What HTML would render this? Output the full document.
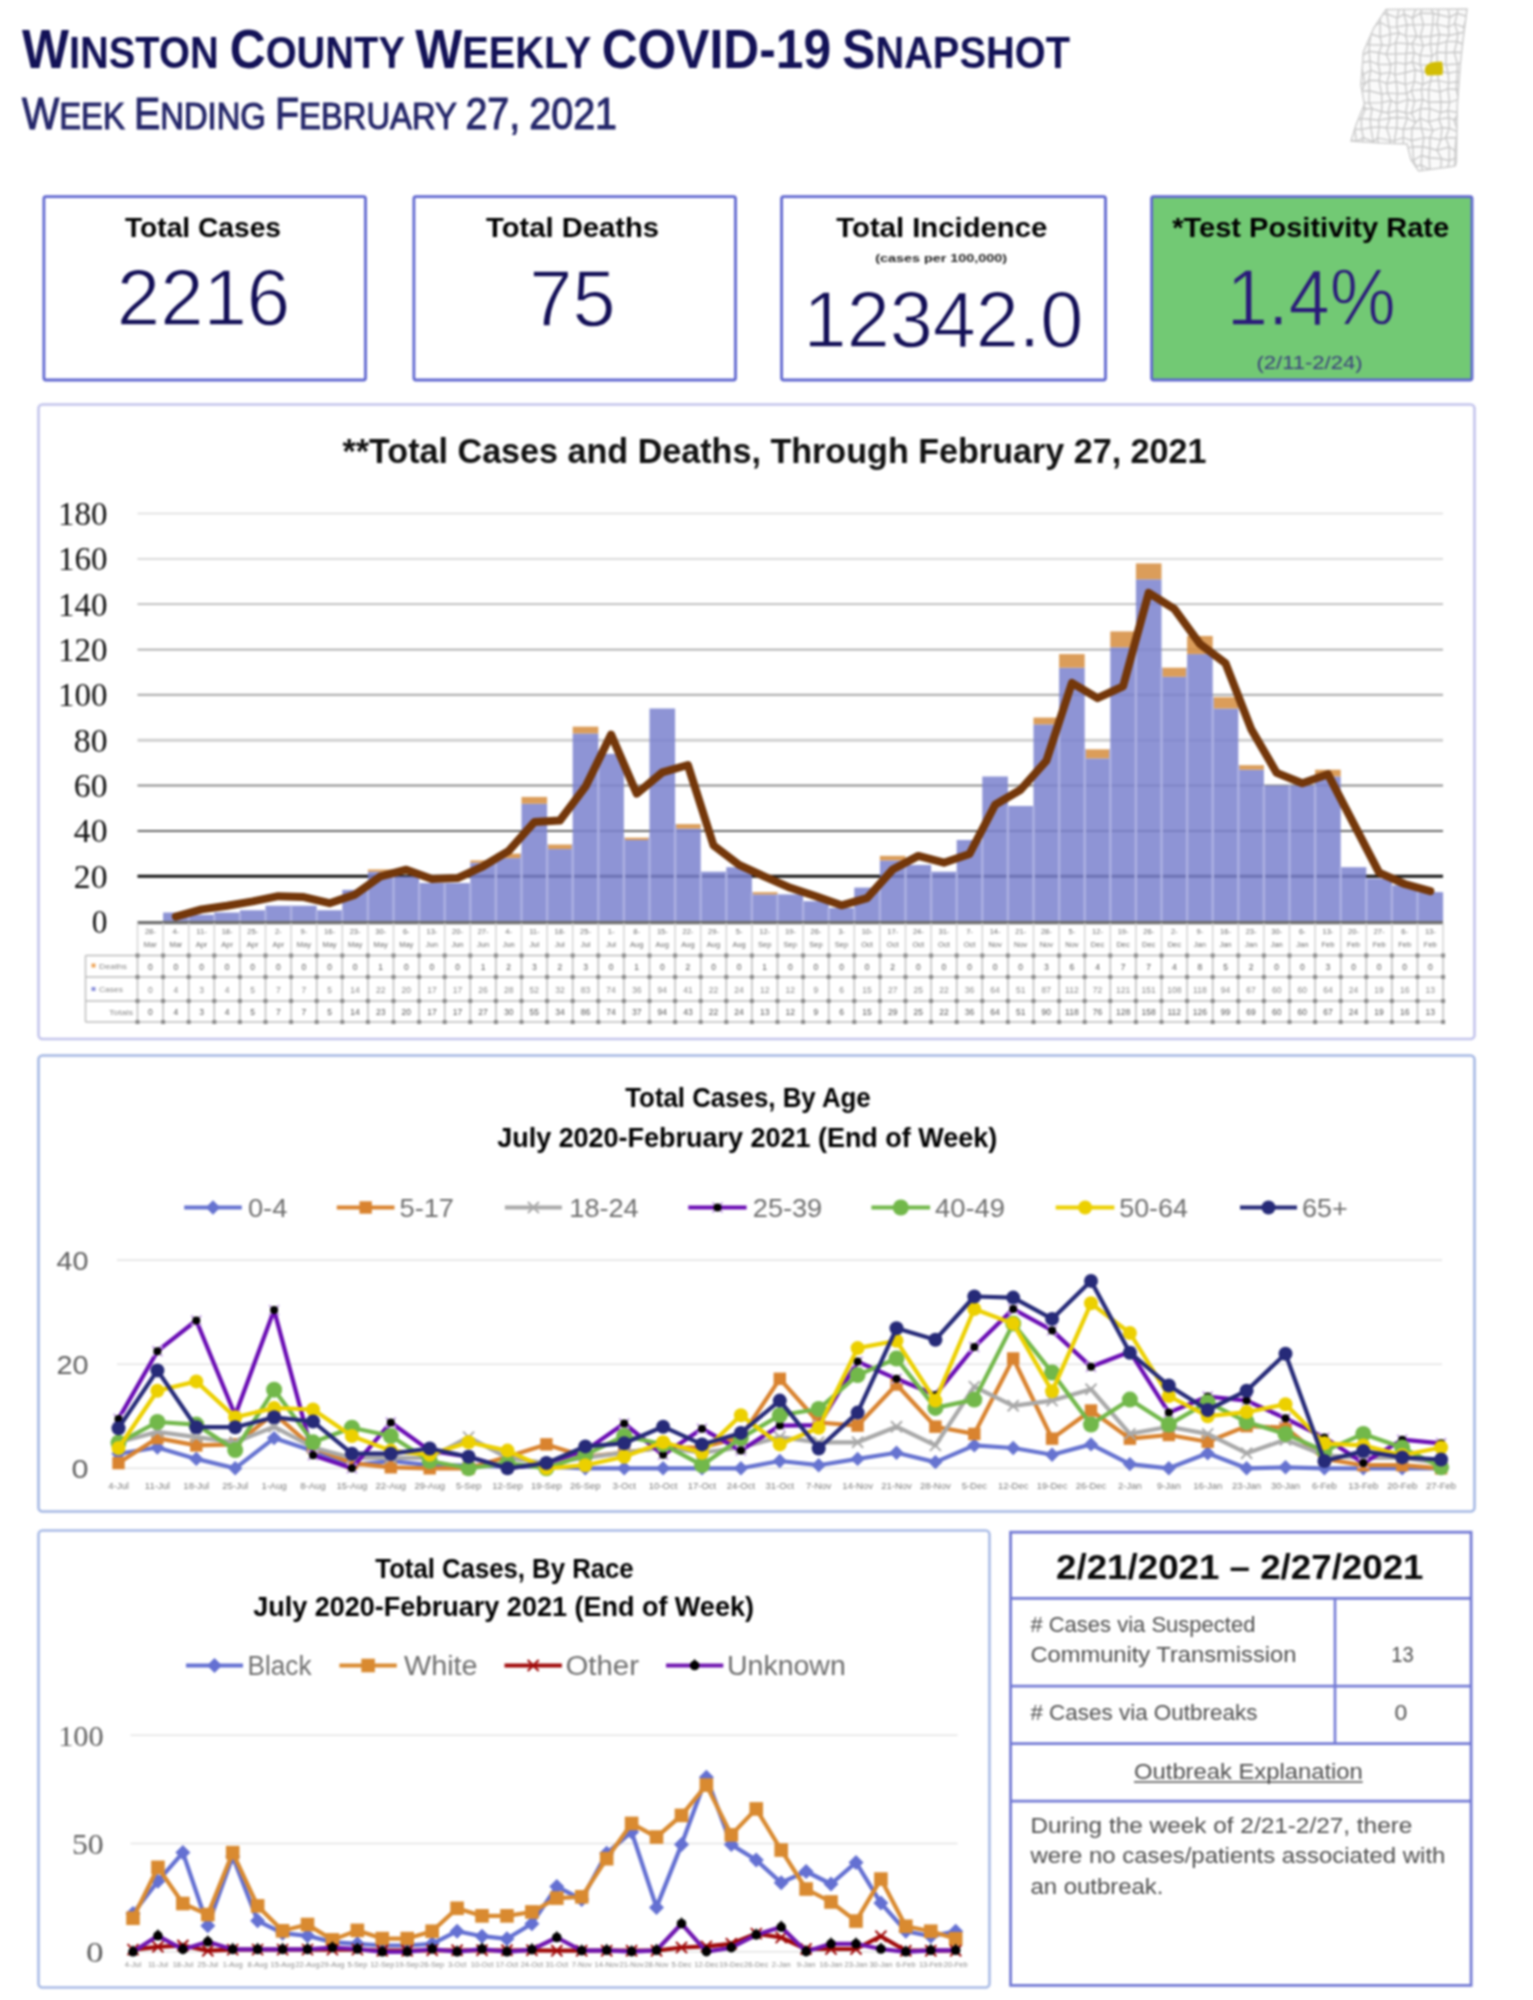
<!DOCTYPE html>
<html><head><meta charset="utf-8"><title>Winston County Weekly COVID-19 Snapshot</title>
<style>
html,body{margin:0;padding:0;background:#fff;}
body{width:1533px;height:2000px;overflow:hidden;font-family:"Liberation Sans",sans-serif;}
svg{display:block;filter:blur(0.8px);}
</style></head><body>
<svg width="1533" height="2000" viewBox="0 0 1533 2000" font-family='"Liberation Sans", sans-serif'><defs><clipPath id="msclip"><path d="M1386,9.5 L1467,9 L1463,40 L1460.5,62.6 L1457.3,104.4 L1456.3,162.8 L1455,166 L1418.7,171 L1411,160 L1407,144 L1380,143 L1351,141 L1356,125 L1364.4,104.4 L1361,85 L1363.4,52 L1373.8,28 Z"/></clipPath><filter id="mblur" x="-5%" y="-5%" width="110%" height="110%"><feGaussianBlur stdDeviation="0.7"/></filter></defs><text x="22" y="68" font-weight="bold" fill="#131257" textLength="1048" lengthAdjust="spacingAndGlyphs"><tspan font-size="55">W</tspan><tspan font-size="44">I</tspan><tspan font-size="44">N</tspan><tspan font-size="44">S</tspan><tspan font-size="44">T</tspan><tspan font-size="44">O</tspan><tspan font-size="44">N</tspan><tspan font-size="44"> </tspan><tspan font-size="55">C</tspan><tspan font-size="44">O</tspan><tspan font-size="44">U</tspan><tspan font-size="44">N</tspan><tspan font-size="44">T</tspan><tspan font-size="44">Y</tspan><tspan font-size="44"> </tspan><tspan font-size="55">W</tspan><tspan font-size="44">E</tspan><tspan font-size="44">E</tspan><tspan font-size="44">K</tspan><tspan font-size="44">L</tspan><tspan font-size="44">Y</tspan><tspan font-size="44"> </tspan><tspan font-size="55">C</tspan><tspan font-size="55">O</tspan><tspan font-size="55">V</tspan><tspan font-size="55">I</tspan><tspan font-size="55">D</tspan><tspan font-size="55">-</tspan><tspan font-size="55">1</tspan><tspan font-size="55">9</tspan><tspan font-size="44"> </tspan><tspan font-size="55">S</tspan><tspan font-size="44">N</tspan><tspan font-size="44">A</tspan><tspan font-size="44">P</tspan><tspan font-size="44">S</tspan><tspan font-size="44">H</tspan><tspan font-size="44">O</tspan><tspan font-size="44">T</tspan></text>
<text x="22" y="128.6" fill="#25276a" textLength="595" lengthAdjust="spacingAndGlyphs" stroke="#25276a" stroke-width="1.1"><tspan font-size="44.5">W</tspan><tspan font-size="37">E</tspan><tspan font-size="37">E</tspan><tspan font-size="37">K</tspan><tspan font-size="37"> </tspan><tspan font-size="44.5">E</tspan><tspan font-size="37">N</tspan><tspan font-size="37">D</tspan><tspan font-size="37">I</tspan><tspan font-size="37">N</tspan><tspan font-size="37">G</tspan><tspan font-size="37"> </tspan><tspan font-size="44.5">F</tspan><tspan font-size="37">E</tspan><tspan font-size="37">B</tspan><tspan font-size="37">R</tspan><tspan font-size="37">U</tspan><tspan font-size="37">A</tspan><tspan font-size="37">R</tspan><tspan font-size="37">Y</tspan><tspan font-size="37"> </tspan><tspan font-size="44.5">2</tspan><tspan font-size="44.5">7</tspan><tspan font-size="44.5">,</tspan><tspan font-size="37"> </tspan><tspan font-size="44.5">2</tspan><tspan font-size="44.5">0</tspan><tspan font-size="44.5">2</tspan><tspan font-size="44.5">1</tspan></text>
<path d="M1386,9.5 L1467,9 L1463,40 L1460.5,62.6 L1457.3,104.4 L1456.3,162.8 L1455,166 L1418.7,171 L1411,160 L1407,144 L1380,143 L1351,141 L1356,125 L1364.4,104.4 L1361,85 L1363.4,52 L1373.8,28 Z" fill="#fafafa" stroke="#cfcfcf" stroke-width="1.5"/>
<g><g clip-path="url(#msclip)" fill="none" stroke="#c8c8c8" stroke-width="1.4">
<polyline points="1345.1,4.2 1346.8,13.3 1346.2,24.3 1343.7,34.5 1343.6,43.7 1343.8,51.4 1345.6,64.7 1344.0,71.1 1346.7,84.3 1346.4,91.0 1348.5,98.6 1347.9,109.4 1344.2,118.0 1345.0,131.1 1344.3,139.4 1346.7,147.8 1346.2,155.7 1343.7,166.0 1346.9,176.6"/>
<polyline points="1353.5,6.4 1354.3,14.5 1356.0,26.0 1353.2,34.9 1354.6,46.0 1355.7,52.4 1357.0,61.0 1354.1,73.8 1352.7,81.9 1352.1,92.4 1355.9,101.4 1356.5,109.5 1355.5,120.5 1354.9,129.3 1356.3,141.3 1354.4,149.4 1352.2,159.0 1355.3,170.1 1356.2,175.9"/>
<polyline points="1362.4,6.9 1360.5,15.3 1361.3,23.0 1360.7,35.9 1361.1,42.7 1362.4,55.4 1360.8,62.7 1363.3,74.5 1364.7,83.9 1361.8,91.1 1362.3,103.0 1365.4,108.7 1361.3,118.6 1361.6,129.4 1363.5,137.8 1360.4,148.1 1362.3,158.3 1365.4,168.5 1363.1,177.6"/>
<polyline points="1372.4,3.7 1373.6,17.0 1373.4,26.5 1370.9,34.0 1369.4,44.7 1369.2,51.3 1370.0,61.2 1370.7,70.2 1368.9,80.2 1369.4,90.8 1369.0,102.9 1372.1,108.7 1370.2,119.2 1370.8,127.5 1373.3,141.6 1371.3,148.4 1369.3,155.9 1370.7,166.3 1373.2,175.2"/>
<polyline points="1377.5,8.3 1380.1,13.7 1380.2,22.5 1380.1,37.0 1381.9,45.0 1378.8,52.8 1378.3,64.4 1380.2,74.0 1379.1,80.6 1381.6,94.0 1381.8,102.6 1381.7,111.7 1378.6,120.1 1379.2,127.1 1377.5,137.9 1378.7,149.5 1382.4,157.7 1382.3,170.0 1382.4,176.3"/>
<polyline points="1387.0,4.6 1386.9,14.0 1389.1,27.1 1390.3,34.4 1389.3,45.6 1386.3,54.3 1390.6,64.5 1389.8,72.4 1386.8,83.5 1387.6,93.1 1391.0,100.5 1388.0,112.8 1389.7,118.3 1386.6,127.7 1390.6,140.6 1386.7,150.2 1391.0,158.8 1387.7,167.8 1386.6,174.5"/>
<polyline points="1399.4,6.8 1397.1,17.8 1396.7,26.9 1398.7,33.0 1395.7,42.9 1395.7,53.9 1395.7,62.6 1395.1,74.6 1396.2,81.8 1397.4,93.6 1396.6,103.2 1397.0,110.7 1397.1,117.5 1396.7,127.9 1394.4,140.6 1395.3,148.4 1398.2,158.3 1396.1,167.6 1397.3,178.5"/>
<polyline points="1403.5,6.3 1404.2,14.3 1406.9,25.0 1405.8,35.9 1407.6,43.7 1406.1,53.5 1405.6,64.0 1405.3,72.7 1405.4,84.3 1406.5,93.5 1407.8,99.7 1405.8,112.8 1407.3,118.1 1403.5,129.2 1403.3,137.7 1403.3,149.4 1407.0,160.1 1403.7,168.6 1406.3,175.1"/>
<polyline points="1416.0,8.4 1412.5,17.9 1413.5,24.9 1416.5,36.2 1412.2,43.6 1414.1,52.7 1412.4,62.1 1415.2,70.0 1414.3,81.7 1411.5,90.6 1414.6,101.1 1411.7,113.0 1415.5,122.5 1411.9,128.3 1411.6,140.5 1412.8,146.6 1413.6,160.1 1415.7,166.2 1412.2,179.2"/>
<polyline points="1422.9,7.0 1420.4,13.2 1423.5,24.6 1420.3,36.8 1423.2,45.6 1420.3,55.4 1420.2,64.9 1422.3,71.7 1422.8,84.2 1421.3,89.6 1422.6,99.6 1420.5,108.7 1420.2,118.4 1421.5,128.5 1423.8,137.9 1422.5,146.8 1421.7,155.5 1421.2,165.0 1423.7,177.3"/>
<polyline points="1429.4,5.9 1433.3,13.5 1432.7,24.6 1431.0,36.2 1430.4,44.0 1432.0,56.0 1430.2,64.7 1432.1,73.2 1430.5,81.2 1428.7,89.6 1428.8,102.3 1429.7,108.7 1428.8,121.8 1432.9,130.4 1429.9,137.7 1429.9,148.3 1429.2,157.7 1429.8,169.9 1433.5,177.2"/>
<polyline points="1438.2,8.4 1438.5,14.8 1436.9,24.4 1439.4,34.5 1437.9,44.0 1436.9,52.3 1437.4,62.5 1437.1,70.0 1438.5,80.6 1439.9,91.7 1440.8,101.8 1440.6,112.5 1438.9,119.1 1442.0,127.7 1440.7,139.7 1437.1,150.2 1441.5,158.7 1440.7,169.1 1437.6,177.1"/>
<polyline points="1448.0,7.7 1449.6,17.2 1448.4,27.0 1449.0,35.5 1446.6,41.6 1446.1,52.8 1445.9,64.7 1448.3,73.2 1448.7,82.9 1447.9,88.9 1449.5,102.3 1448.0,110.7 1448.8,117.7 1449.2,128.2 1445.8,137.8 1449.2,147.0 1449.2,160.5 1448.0,166.9 1447.9,178.0"/>
<polyline points="1457.9,6.6 1457.2,13.3 1454.7,23.7 1457.8,33.5 1456.9,41.5 1454.2,52.3 1457.4,64.0 1457.4,71.4 1456.6,81.8 1456.3,89.5 1458.5,99.4 1459.0,112.8 1454.0,119.8 1458.2,131.9 1456.2,137.8 1455.0,150.8 1455.0,158.4 1454.6,167.6 1458.9,175.1"/>
<polyline points="1466.7,6.0 1467.0,16.6 1463.6,27.1 1464.9,32.0 1462.4,44.0 1464.7,52.5 1463.1,62.2 1464.0,74.3 1462.4,83.3 1466.8,89.5 1467.2,102.1 1467.1,109.4 1464.3,119.4 1467.6,130.0 1464.3,138.6 1463.8,146.2 1462.9,159.7 1463.9,169.8 1463.7,175.8"/>
<polyline points="1345.1,4.2 1353.5,6.4 1362.4,6.9 1372.4,3.7 1377.5,8.3 1387.0,4.6 1399.4,6.8 1403.5,6.3 1416.0,8.4 1422.9,7.0 1429.4,5.9 1438.2,8.4 1448.0,7.7 1457.9,6.6 1466.7,6.0"/>
<polyline points="1346.8,13.3 1354.3,14.5 1360.5,15.3 1373.6,17.0 1380.1,13.7 1386.9,14.0 1397.1,17.8 1404.2,14.3 1412.5,17.9 1420.4,13.2 1433.3,13.5 1438.5,14.8 1449.6,17.2 1457.2,13.3 1467.0,16.6"/>
<polyline points="1346.2,24.3 1356.0,26.0 1361.3,23.0 1373.4,26.5 1380.2,22.5 1389.1,27.1 1396.7,26.9 1406.9,25.0 1413.5,24.9 1423.5,24.6 1432.7,24.6 1436.9,24.4 1448.4,27.0 1454.7,23.7 1463.6,27.1"/>
<polyline points="1343.7,34.5 1353.2,34.9 1360.7,35.9 1370.9,34.0 1380.1,37.0 1390.3,34.4 1398.7,33.0 1405.8,35.9 1416.5,36.2 1420.3,36.8 1431.0,36.2 1439.4,34.5 1449.0,35.5 1457.8,33.5 1464.9,32.0"/>
<polyline points="1343.6,43.7 1354.6,46.0 1361.1,42.7 1369.4,44.7 1381.9,45.0 1389.3,45.6 1395.7,42.9 1407.6,43.7 1412.2,43.6 1423.2,45.6 1430.4,44.0 1437.9,44.0 1446.6,41.6 1456.9,41.5 1462.4,44.0"/>
<polyline points="1343.8,51.4 1355.7,52.4 1362.4,55.4 1369.2,51.3 1378.8,52.8 1386.3,54.3 1395.7,53.9 1406.1,53.5 1414.1,52.7 1420.3,55.4 1432.0,56.0 1436.9,52.3 1446.1,52.8 1454.2,52.3 1464.7,52.5"/>
<polyline points="1345.6,64.7 1357.0,61.0 1360.8,62.7 1370.0,61.2 1378.3,64.4 1390.6,64.5 1395.7,62.6 1405.6,64.0 1412.4,62.1 1420.2,64.9 1430.2,64.7 1437.4,62.5 1445.9,64.7 1457.4,64.0 1463.1,62.2"/>
<polyline points="1344.0,71.1 1354.1,73.8 1363.3,74.5 1370.7,70.2 1380.2,74.0 1389.8,72.4 1395.1,74.6 1405.3,72.7 1415.2,70.0 1422.3,71.7 1432.1,73.2 1437.1,70.0 1448.3,73.2 1457.4,71.4 1464.0,74.3"/>
<polyline points="1346.7,84.3 1352.7,81.9 1364.7,83.9 1368.9,80.2 1379.1,80.6 1386.8,83.5 1396.2,81.8 1405.4,84.3 1414.3,81.7 1422.8,84.2 1430.5,81.2 1438.5,80.6 1448.7,82.9 1456.6,81.8 1462.4,83.3"/>
<polyline points="1346.4,91.0 1352.1,92.4 1361.8,91.1 1369.4,90.8 1381.6,94.0 1387.6,93.1 1397.4,93.6 1406.5,93.5 1411.5,90.6 1421.3,89.6 1428.7,89.6 1439.9,91.7 1447.9,88.9 1456.3,89.5 1466.8,89.5"/>
<polyline points="1348.5,98.6 1355.9,101.4 1362.3,103.0 1369.0,102.9 1381.8,102.6 1391.0,100.5 1396.6,103.2 1407.8,99.7 1414.6,101.1 1422.6,99.6 1428.8,102.3 1440.8,101.8 1449.5,102.3 1458.5,99.4 1467.2,102.1"/>
<polyline points="1347.9,109.4 1356.5,109.5 1365.4,108.7 1372.1,108.7 1381.7,111.7 1388.0,112.8 1397.0,110.7 1405.8,112.8 1411.7,113.0 1420.5,108.7 1429.7,108.7 1440.6,112.5 1448.0,110.7 1459.0,112.8 1467.1,109.4"/>
<polyline points="1344.2,118.0 1355.5,120.5 1361.3,118.6 1370.2,119.2 1378.6,120.1 1389.7,118.3 1397.1,117.5 1407.3,118.1 1415.5,122.5 1420.2,118.4 1428.8,121.8 1438.9,119.1 1448.8,117.7 1454.0,119.8 1464.3,119.4"/>
<polyline points="1345.0,131.1 1354.9,129.3 1361.6,129.4 1370.8,127.5 1379.2,127.1 1386.6,127.7 1396.7,127.9 1403.5,129.2 1411.9,128.3 1421.5,128.5 1432.9,130.4 1442.0,127.7 1449.2,128.2 1458.2,131.9 1467.6,130.0"/>
<polyline points="1344.3,139.4 1356.3,141.3 1363.5,137.8 1373.3,141.6 1377.5,137.9 1390.6,140.6 1394.4,140.6 1403.3,137.7 1411.6,140.5 1423.8,137.9 1429.9,137.7 1440.7,139.7 1445.8,137.8 1456.2,137.8 1464.3,138.6"/>
<polyline points="1346.7,147.8 1354.4,149.4 1360.4,148.1 1371.3,148.4 1378.7,149.5 1386.7,150.2 1395.3,148.4 1403.3,149.4 1412.8,146.6 1422.5,146.8 1429.9,148.3 1437.1,150.2 1449.2,147.0 1455.0,150.8 1463.8,146.2"/>
<polyline points="1346.2,155.7 1352.2,159.0 1362.3,158.3 1369.3,155.9 1382.4,157.7 1391.0,158.8 1398.2,158.3 1407.0,160.1 1413.6,160.1 1421.7,155.5 1429.2,157.7 1441.5,158.7 1449.2,160.5 1455.0,158.4 1462.9,159.7"/>
<polyline points="1343.7,166.0 1355.3,170.1 1365.4,168.5 1370.7,166.3 1382.3,170.0 1387.7,167.8 1396.1,167.6 1403.7,168.6 1415.7,166.2 1421.2,165.0 1429.8,169.9 1440.7,169.1 1448.0,166.9 1454.6,167.6 1463.9,169.8"/>
<polyline points="1346.9,176.6 1356.2,175.9 1363.1,177.6 1373.2,175.2 1382.4,176.3 1386.6,174.5 1397.3,178.5 1406.3,175.1 1412.2,179.2 1423.7,177.3 1433.5,177.2 1437.6,177.1 1447.9,178.0 1458.9,175.1 1463.7,175.8"/>
</g></g>
<path d="M1425,68 Q1427,63 1434,62 L1442,61.5 L1443,68 L1442.5,75 L1427,75.5 Q1424,72 1425,68 Z" fill="#d2bd05"/>
<rect x="43.90" y="196.60" width="321.60" height="183.40" fill="#ffffff" stroke="#5f66cf" stroke-width="2.8" rx="2"/>
<rect x="413.90" y="196.60" width="321.60" height="183.40" fill="#ffffff" stroke="#5f66cf" stroke-width="2.8" rx="2"/>
<rect x="781.60" y="196.60" width="323.90" height="183.40" fill="#ffffff" stroke="#5f66cf" stroke-width="2.8" rx="2"/>
<rect x="1151.60" y="196.60" width="320.40" height="183.40" fill="#72c974" stroke="#5f66cf" stroke-width="2.8" rx="2"/>
<text x="203.0" y="236.5" font-size="28.5" font-weight="bold" fill="#000" text-anchor="middle" textLength="156.0" lengthAdjust="spacingAndGlyphs">Total Cases</text>
<text x="572.5" y="236.5" font-size="28.5" font-weight="bold" fill="#000" text-anchor="middle" textLength="173.0" lengthAdjust="spacingAndGlyphs">Total Deaths</text>
<text x="941.8" y="236.5" font-size="28.5" font-weight="bold" fill="#000" text-anchor="middle" textLength="211.0" lengthAdjust="spacingAndGlyphs">Total Incidence</text>
<text x="1310.7" y="236.5" font-size="28.5" font-weight="bold" fill="#000" text-anchor="middle" textLength="277.0" lengthAdjust="spacingAndGlyphs">*Test Positivity Rate</text>
<text x="941.2" y="262.0" font-size="11" font-weight="bold" fill="#222" text-anchor="middle" textLength="132.0" lengthAdjust="spacingAndGlyphs">(cases per 100,000)</text>
<text x="1309.5" y="368.5" font-size="18" fill="#3b3d7c" text-anchor="middle" textLength="106.0" lengthAdjust="spacingAndGlyphs">(2/11-2/24)</text>
<text x="203.5" y="324.6" font-size="80" fill="#130f57" text-anchor="middle" textLength="173.4" lengthAdjust="spacingAndGlyphs" stroke="#fff" stroke-width="1.3">2216</text>
<text x="572.4" y="325.6" font-size="80" fill="#130f57" text-anchor="middle" textLength="86.2" lengthAdjust="spacingAndGlyphs" stroke="#fff" stroke-width="1.3">75</text>
<text x="943.5" y="346.5" font-size="80" fill="#130f57" text-anchor="middle" textLength="279.8" lengthAdjust="spacingAndGlyphs" stroke="#fff" stroke-width="1.3">12342.0</text>
<text x="1311.2" y="325.2" font-size="80" fill="#2a1a7a" text-anchor="middle" textLength="169.0" lengthAdjust="spacingAndGlyphs" stroke="#72c974" stroke-width="1.3">1.4%</text>
<rect x="38.50" y="404.50" width="1436.00" height="634.50" fill="#fff" stroke="#c3c4ec" stroke-width="2.6" rx="4"/>
<rect x="38.50" y="1055.50" width="1436.00" height="456.00" fill="#fff" stroke="#a5b8e4" stroke-width="2.6" rx="4"/>
<rect x="38.50" y="1530.50" width="951.00" height="457.00" fill="#fff" stroke="#a9bbe6" stroke-width="2.6" rx="4"/>
<text x="774.5" y="462.5" font-size="35" font-weight="bold" fill="#111" text-anchor="middle" textLength="864.0" lengthAdjust="spacingAndGlyphs">**Total Cases and Deaths, Through February 27, 2021</text>
<line x1="137.50" y1="513.54" x2="1443.00" y2="513.54" stroke="#dcdcdc" stroke-width="1.6"/>
<line x1="137.50" y1="558.88" x2="1443.00" y2="558.88" stroke="#d4d4d4" stroke-width="1.8"/>
<line x1="137.50" y1="604.22" x2="1443.00" y2="604.22" stroke="#b8b8b8" stroke-width="1.8"/>
<line x1="137.50" y1="649.56" x2="1443.00" y2="649.56" stroke="#a8a8a8" stroke-width="1.8"/>
<line x1="137.50" y1="694.90" x2="1443.00" y2="694.90" stroke="#b0b0b0" stroke-width="2.4"/>
<line x1="137.50" y1="740.24" x2="1443.00" y2="740.24" stroke="#cfcfcf" stroke-width="2.8"/>
<line x1="137.50" y1="785.58" x2="1443.00" y2="785.58" stroke="#8c8c8c" stroke-width="2.0"/>
<line x1="137.50" y1="830.92" x2="1443.00" y2="830.92" stroke="#6a6a6a" stroke-width="2.0"/>
<line x1="137.50" y1="876.26" x2="1443.00" y2="876.26" stroke="#141414" stroke-width="2.8"/>
<text x="107.5" y="933.1" font-size="33" font-family='"Liberation Serif", serif' fill="#111" text-anchor="end" textLength="15.7" lengthAdjust="spacingAndGlyphs">0</text>
<text x="107.5" y="887.8" font-size="33" font-family='"Liberation Serif", serif' fill="#111" text-anchor="end" textLength="33.7" lengthAdjust="spacingAndGlyphs">20</text>
<text x="107.5" y="842.4" font-size="33" font-family='"Liberation Serif", serif' fill="#111" text-anchor="end" textLength="33.7" lengthAdjust="spacingAndGlyphs">40</text>
<text x="107.5" y="797.1" font-size="33" font-family='"Liberation Serif", serif' fill="#111" text-anchor="end" textLength="33.7" lengthAdjust="spacingAndGlyphs">60</text>
<text x="107.5" y="751.7" font-size="33" font-family='"Liberation Serif", serif' fill="#111" text-anchor="end" textLength="33.7" lengthAdjust="spacingAndGlyphs">80</text>
<text x="107.5" y="706.4" font-size="33" font-family='"Liberation Serif", serif' fill="#111" text-anchor="end" textLength="49.5" lengthAdjust="spacingAndGlyphs">100</text>
<text x="107.5" y="661.1" font-size="33" font-family='"Liberation Serif", serif' fill="#111" text-anchor="end" textLength="49.5" lengthAdjust="spacingAndGlyphs">120</text>
<text x="107.5" y="615.7" font-size="33" font-family='"Liberation Serif", serif' fill="#111" text-anchor="end" textLength="49.5" lengthAdjust="spacingAndGlyphs">140</text>
<text x="107.5" y="570.4" font-size="33" font-family='"Liberation Serif", serif' fill="#111" text-anchor="end" textLength="49.5" lengthAdjust="spacingAndGlyphs">160</text>
<text x="107.5" y="525.0" font-size="33" font-family='"Liberation Serif", serif' fill="#111" text-anchor="end" textLength="49.5" lengthAdjust="spacingAndGlyphs">180</text>
<g opacity="0.86">
<rect x="163.10" y="912.53" width="25.60" height="9.07" fill="#7c83cf"/>
<rect x="188.70" y="914.80" width="25.60" height="6.80" fill="#7c83cf"/>
<rect x="214.30" y="912.53" width="25.60" height="9.07" fill="#7c83cf"/>
<rect x="239.90" y="910.26" width="25.60" height="11.33" fill="#7c83cf"/>
<rect x="265.50" y="905.73" width="25.60" height="15.87" fill="#7c83cf"/>
<rect x="291.10" y="905.73" width="25.60" height="15.87" fill="#7c83cf"/>
<rect x="316.70" y="910.26" width="25.60" height="11.33" fill="#7c83cf"/>
<rect x="342.30" y="889.86" width="25.60" height="31.74" fill="#7c83cf"/>
<rect x="367.90" y="871.73" width="25.60" height="49.87" fill="#7c83cf"/>
<rect x="367.90" y="869.46" width="25.60" height="2.27" fill="#d68e40"/>
<rect x="393.50" y="876.26" width="25.60" height="45.34" fill="#7c83cf"/>
<rect x="419.10" y="883.06" width="25.60" height="38.54" fill="#7c83cf"/>
<rect x="444.70" y="883.06" width="25.60" height="38.54" fill="#7c83cf"/>
<rect x="470.30" y="862.66" width="25.60" height="58.94" fill="#7c83cf"/>
<rect x="470.30" y="860.39" width="25.60" height="2.27" fill="#d68e40"/>
<rect x="495.90" y="858.12" width="25.60" height="63.48" fill="#7c83cf"/>
<rect x="495.90" y="853.59" width="25.60" height="4.53" fill="#d68e40"/>
<rect x="521.50" y="803.72" width="25.60" height="117.88" fill="#7c83cf"/>
<rect x="521.50" y="796.92" width="25.60" height="6.80" fill="#d68e40"/>
<rect x="547.10" y="849.06" width="25.60" height="72.54" fill="#7c83cf"/>
<rect x="547.10" y="844.52" width="25.60" height="4.53" fill="#d68e40"/>
<rect x="572.70" y="733.44" width="25.60" height="188.16" fill="#7c83cf"/>
<rect x="572.70" y="726.64" width="25.60" height="6.80" fill="#d68e40"/>
<rect x="598.30" y="753.84" width="25.60" height="167.76" fill="#7c83cf"/>
<rect x="623.90" y="839.99" width="25.60" height="81.61" fill="#7c83cf"/>
<rect x="623.90" y="837.72" width="25.60" height="2.27" fill="#d68e40"/>
<rect x="649.50" y="708.50" width="25.60" height="213.10" fill="#7c83cf"/>
<rect x="675.10" y="828.65" width="25.60" height="92.95" fill="#7c83cf"/>
<rect x="675.10" y="824.12" width="25.60" height="4.53" fill="#d68e40"/>
<rect x="700.70" y="871.73" width="25.60" height="49.87" fill="#7c83cf"/>
<rect x="726.30" y="867.19" width="25.60" height="54.41" fill="#7c83cf"/>
<rect x="751.90" y="894.40" width="25.60" height="27.20" fill="#7c83cf"/>
<rect x="751.90" y="892.13" width="25.60" height="2.27" fill="#d68e40"/>
<rect x="777.50" y="894.40" width="25.60" height="27.20" fill="#7c83cf"/>
<rect x="803.10" y="901.20" width="25.60" height="20.40" fill="#7c83cf"/>
<rect x="828.70" y="908.00" width="25.60" height="13.60" fill="#7c83cf"/>
<rect x="854.30" y="887.60" width="25.60" height="34.00" fill="#7c83cf"/>
<rect x="879.90" y="860.39" width="25.60" height="61.21" fill="#7c83cf"/>
<rect x="879.90" y="855.86" width="25.60" height="4.53" fill="#d68e40"/>
<rect x="905.50" y="864.93" width="25.60" height="56.67" fill="#7c83cf"/>
<rect x="931.10" y="871.73" width="25.60" height="49.87" fill="#7c83cf"/>
<rect x="956.70" y="839.99" width="25.60" height="81.61" fill="#7c83cf"/>
<rect x="982.30" y="776.51" width="25.60" height="145.09" fill="#7c83cf"/>
<rect x="1007.90" y="805.98" width="25.60" height="115.62" fill="#7c83cf"/>
<rect x="1033.50" y="724.37" width="25.60" height="197.23" fill="#7c83cf"/>
<rect x="1033.50" y="717.57" width="25.60" height="6.80" fill="#d68e40"/>
<rect x="1059.10" y="667.70" width="25.60" height="253.90" fill="#7c83cf"/>
<rect x="1059.10" y="654.09" width="25.60" height="13.60" fill="#d68e40"/>
<rect x="1084.70" y="758.38" width="25.60" height="163.22" fill="#7c83cf"/>
<rect x="1084.70" y="749.31" width="25.60" height="9.07" fill="#d68e40"/>
<rect x="1110.30" y="647.29" width="25.60" height="274.31" fill="#7c83cf"/>
<rect x="1110.30" y="631.42" width="25.60" height="15.87" fill="#d68e40"/>
<rect x="1135.90" y="579.28" width="25.60" height="342.32" fill="#7c83cf"/>
<rect x="1135.90" y="563.41" width="25.60" height="15.87" fill="#d68e40"/>
<rect x="1161.50" y="676.76" width="25.60" height="244.84" fill="#7c83cf"/>
<rect x="1161.50" y="667.70" width="25.60" height="9.07" fill="#d68e40"/>
<rect x="1187.10" y="654.09" width="25.60" height="267.51" fill="#7c83cf"/>
<rect x="1187.10" y="635.96" width="25.60" height="18.14" fill="#d68e40"/>
<rect x="1212.70" y="708.50" width="25.60" height="213.10" fill="#7c83cf"/>
<rect x="1212.70" y="697.17" width="25.60" height="11.33" fill="#d68e40"/>
<rect x="1238.30" y="769.71" width="25.60" height="151.89" fill="#7c83cf"/>
<rect x="1238.30" y="765.18" width="25.60" height="4.53" fill="#d68e40"/>
<rect x="1263.90" y="785.58" width="25.60" height="136.02" fill="#7c83cf"/>
<rect x="1289.50" y="785.58" width="25.60" height="136.02" fill="#7c83cf"/>
<rect x="1315.10" y="776.51" width="25.60" height="145.09" fill="#7c83cf"/>
<rect x="1315.10" y="769.71" width="25.60" height="6.80" fill="#d68e40"/>
<rect x="1340.70" y="867.19" width="25.60" height="54.41" fill="#7c83cf"/>
<rect x="1366.30" y="878.53" width="25.60" height="43.07" fill="#7c83cf"/>
<rect x="1391.90" y="885.33" width="25.60" height="36.27" fill="#7c83cf"/>
<rect x="1417.50" y="892.13" width="25.60" height="29.47" fill="#7c83cf"/>
</g>
<line x1="188.70" y1="914.80" x2="188.70" y2="921.60" stroke="#adb1e2" stroke-width="2.4"/>
<line x1="214.30" y1="914.80" x2="214.30" y2="921.60" stroke="#adb1e2" stroke-width="2.4"/>
<line x1="239.90" y1="912.53" x2="239.90" y2="921.60" stroke="#adb1e2" stroke-width="2.4"/>
<line x1="265.50" y1="910.26" x2="265.50" y2="921.60" stroke="#adb1e2" stroke-width="2.4"/>
<line x1="291.10" y1="905.73" x2="291.10" y2="921.60" stroke="#adb1e2" stroke-width="2.4"/>
<line x1="316.70" y1="910.26" x2="316.70" y2="921.60" stroke="#adb1e2" stroke-width="2.4"/>
<line x1="342.30" y1="910.26" x2="342.30" y2="921.60" stroke="#adb1e2" stroke-width="2.4"/>
<line x1="367.90" y1="889.86" x2="367.90" y2="921.60" stroke="#adb1e2" stroke-width="2.4"/>
<line x1="393.50" y1="876.26" x2="393.50" y2="921.60" stroke="#adb1e2" stroke-width="2.4"/>
<line x1="419.10" y1="883.06" x2="419.10" y2="921.60" stroke="#adb1e2" stroke-width="2.4"/>
<line x1="444.70" y1="883.06" x2="444.70" y2="921.60" stroke="#adb1e2" stroke-width="2.4"/>
<line x1="470.30" y1="883.06" x2="470.30" y2="921.60" stroke="#adb1e2" stroke-width="2.4"/>
<line x1="495.90" y1="860.39" x2="495.90" y2="921.60" stroke="#adb1e2" stroke-width="2.4"/>
<line x1="521.50" y1="853.59" x2="521.50" y2="921.60" stroke="#adb1e2" stroke-width="2.4"/>
<line x1="547.10" y1="844.52" x2="547.10" y2="921.60" stroke="#adb1e2" stroke-width="2.4"/>
<line x1="572.70" y1="844.52" x2="572.70" y2="921.60" stroke="#adb1e2" stroke-width="2.4"/>
<line x1="598.30" y1="753.84" x2="598.30" y2="921.60" stroke="#adb1e2" stroke-width="2.4"/>
<line x1="623.90" y1="837.72" x2="623.90" y2="921.60" stroke="#adb1e2" stroke-width="2.4"/>
<line x1="649.50" y1="837.72" x2="649.50" y2="921.60" stroke="#adb1e2" stroke-width="2.4"/>
<line x1="675.10" y1="824.12" x2="675.10" y2="921.60" stroke="#adb1e2" stroke-width="2.4"/>
<line x1="700.70" y1="871.73" x2="700.70" y2="921.60" stroke="#adb1e2" stroke-width="2.4"/>
<line x1="726.30" y1="871.73" x2="726.30" y2="921.60" stroke="#adb1e2" stroke-width="2.4"/>
<line x1="751.90" y1="892.13" x2="751.90" y2="921.60" stroke="#adb1e2" stroke-width="2.4"/>
<line x1="777.50" y1="894.40" x2="777.50" y2="921.60" stroke="#adb1e2" stroke-width="2.4"/>
<line x1="803.10" y1="901.20" x2="803.10" y2="921.60" stroke="#adb1e2" stroke-width="2.4"/>
<line x1="828.70" y1="908.00" x2="828.70" y2="921.60" stroke="#adb1e2" stroke-width="2.4"/>
<line x1="854.30" y1="908.00" x2="854.30" y2="921.60" stroke="#adb1e2" stroke-width="2.4"/>
<line x1="879.90" y1="887.60" x2="879.90" y2="921.60" stroke="#adb1e2" stroke-width="2.4"/>
<line x1="905.50" y1="864.93" x2="905.50" y2="921.60" stroke="#adb1e2" stroke-width="2.4"/>
<line x1="931.10" y1="871.73" x2="931.10" y2="921.60" stroke="#adb1e2" stroke-width="2.4"/>
<line x1="956.70" y1="871.73" x2="956.70" y2="921.60" stroke="#adb1e2" stroke-width="2.4"/>
<line x1="982.30" y1="839.99" x2="982.30" y2="921.60" stroke="#adb1e2" stroke-width="2.4"/>
<line x1="1007.90" y1="805.98" x2="1007.90" y2="921.60" stroke="#adb1e2" stroke-width="2.4"/>
<line x1="1033.50" y1="805.98" x2="1033.50" y2="921.60" stroke="#adb1e2" stroke-width="2.4"/>
<line x1="1059.10" y1="717.57" x2="1059.10" y2="921.60" stroke="#adb1e2" stroke-width="2.4"/>
<line x1="1084.70" y1="749.31" x2="1084.70" y2="921.60" stroke="#adb1e2" stroke-width="2.4"/>
<line x1="1110.30" y1="749.31" x2="1110.30" y2="921.60" stroke="#adb1e2" stroke-width="2.4"/>
<line x1="1135.90" y1="631.42" x2="1135.90" y2="921.60" stroke="#adb1e2" stroke-width="2.4"/>
<line x1="1161.50" y1="667.70" x2="1161.50" y2="921.60" stroke="#adb1e2" stroke-width="2.4"/>
<line x1="1187.10" y1="667.70" x2="1187.10" y2="921.60" stroke="#adb1e2" stroke-width="2.4"/>
<line x1="1212.70" y1="697.17" x2="1212.70" y2="921.60" stroke="#adb1e2" stroke-width="2.4"/>
<line x1="1238.30" y1="765.18" x2="1238.30" y2="921.60" stroke="#adb1e2" stroke-width="2.4"/>
<line x1="1263.90" y1="785.58" x2="1263.90" y2="921.60" stroke="#adb1e2" stroke-width="2.4"/>
<line x1="1289.50" y1="785.58" x2="1289.50" y2="921.60" stroke="#adb1e2" stroke-width="2.4"/>
<line x1="1315.10" y1="785.58" x2="1315.10" y2="921.60" stroke="#adb1e2" stroke-width="2.4"/>
<line x1="1340.70" y1="867.19" x2="1340.70" y2="921.60" stroke="#adb1e2" stroke-width="2.4"/>
<line x1="1366.30" y1="878.53" x2="1366.30" y2="921.60" stroke="#adb1e2" stroke-width="2.4"/>
<line x1="1391.90" y1="885.33" x2="1391.90" y2="921.60" stroke="#adb1e2" stroke-width="2.4"/>
<line x1="1417.50" y1="892.13" x2="1417.50" y2="921.60" stroke="#adb1e2" stroke-width="2.4"/>
<polyline points="175.9,916.6 201.5,909.4 227.1,905.7 252.7,901.4 278.3,896.2 303.9,897.1 329.5,903.2 355.1,894.6 380.7,876.3 406.3,869.7 431.9,879.0 457.5,878.1 483.1,866.3 508.7,850.9 534.3,822.1 559.9,820.5 585.5,786.7 611.1,734.6 636.7,793.7 662.3,772.4 687.9,765.0 713.5,845.4 739.1,864.9 764.7,876.7 790.3,887.8 815.9,896.2 841.5,905.3 867.1,898.2 892.7,869.5 918.3,855.9 943.9,862.7 969.5,854.0 995.1,804.8 1020.7,789.7 1046.3,760.9 1071.9,682.9 1097.5,698.1 1123.1,686.3 1148.7,592.9 1174.3,608.8 1199.9,643.9 1225.5,663.2 1251.1,728.9 1276.7,772.9 1302.3,783.3 1327.9,774.2 1353.5,823.4 1379.1,872.6 1404.7,884.0 1430.3,891.2" fill="none" stroke="#74370a" stroke-width="8" stroke-linejoin="round" stroke-linecap="round"/>
<line x1="137.50" y1="922.60" x2="1443.00" y2="922.60" stroke="#6e6e6e" stroke-width="3.2"/>
<g stroke="#bdbdbd" stroke-width="1.5">
<line x1="137.5" y1="955.5" x2="137.5" y2="1022"/>
<line x1="137.5" y1="923" x2="137.5" y2="955.5" stroke="#d4d4d4"/>
<line x1="163.1" y1="955.5" x2="163.1" y2="1022"/>
<line x1="163.1" y1="923" x2="163.1" y2="955.5" stroke="#d4d4d4"/>
<line x1="188.7" y1="955.5" x2="188.7" y2="1022"/>
<line x1="188.7" y1="923" x2="188.7" y2="955.5" stroke="#d4d4d4"/>
<line x1="214.3" y1="955.5" x2="214.3" y2="1022"/>
<line x1="214.3" y1="923" x2="214.3" y2="955.5" stroke="#d4d4d4"/>
<line x1="239.9" y1="955.5" x2="239.9" y2="1022"/>
<line x1="239.9" y1="923" x2="239.9" y2="955.5" stroke="#d4d4d4"/>
<line x1="265.5" y1="955.5" x2="265.5" y2="1022"/>
<line x1="265.5" y1="923" x2="265.5" y2="955.5" stroke="#d4d4d4"/>
<line x1="291.1" y1="955.5" x2="291.1" y2="1022"/>
<line x1="291.1" y1="923" x2="291.1" y2="955.5" stroke="#d4d4d4"/>
<line x1="316.7" y1="955.5" x2="316.7" y2="1022"/>
<line x1="316.7" y1="923" x2="316.7" y2="955.5" stroke="#d4d4d4"/>
<line x1="342.3" y1="955.5" x2="342.3" y2="1022"/>
<line x1="342.3" y1="923" x2="342.3" y2="955.5" stroke="#d4d4d4"/>
<line x1="367.9" y1="955.5" x2="367.9" y2="1022"/>
<line x1="367.9" y1="923" x2="367.9" y2="955.5" stroke="#d4d4d4"/>
<line x1="393.5" y1="955.5" x2="393.5" y2="1022"/>
<line x1="393.5" y1="923" x2="393.5" y2="955.5" stroke="#d4d4d4"/>
<line x1="419.1" y1="955.5" x2="419.1" y2="1022"/>
<line x1="419.1" y1="923" x2="419.1" y2="955.5" stroke="#d4d4d4"/>
<line x1="444.7" y1="955.5" x2="444.7" y2="1022"/>
<line x1="444.7" y1="923" x2="444.7" y2="955.5" stroke="#d4d4d4"/>
<line x1="470.3" y1="955.5" x2="470.3" y2="1022"/>
<line x1="470.3" y1="923" x2="470.3" y2="955.5" stroke="#d4d4d4"/>
<line x1="495.9" y1="955.5" x2="495.9" y2="1022"/>
<line x1="495.9" y1="923" x2="495.9" y2="955.5" stroke="#d4d4d4"/>
<line x1="521.5" y1="955.5" x2="521.5" y2="1022"/>
<line x1="521.5" y1="923" x2="521.5" y2="955.5" stroke="#d4d4d4"/>
<line x1="547.1" y1="955.5" x2="547.1" y2="1022"/>
<line x1="547.1" y1="923" x2="547.1" y2="955.5" stroke="#d4d4d4"/>
<line x1="572.7" y1="955.5" x2="572.7" y2="1022"/>
<line x1="572.7" y1="923" x2="572.7" y2="955.5" stroke="#d4d4d4"/>
<line x1="598.3" y1="955.5" x2="598.3" y2="1022"/>
<line x1="598.3" y1="923" x2="598.3" y2="955.5" stroke="#d4d4d4"/>
<line x1="623.9" y1="955.5" x2="623.9" y2="1022"/>
<line x1="623.9" y1="923" x2="623.9" y2="955.5" stroke="#d4d4d4"/>
<line x1="649.5" y1="955.5" x2="649.5" y2="1022"/>
<line x1="649.5" y1="923" x2="649.5" y2="955.5" stroke="#d4d4d4"/>
<line x1="675.1" y1="955.5" x2="675.1" y2="1022"/>
<line x1="675.1" y1="923" x2="675.1" y2="955.5" stroke="#d4d4d4"/>
<line x1="700.7" y1="955.5" x2="700.7" y2="1022"/>
<line x1="700.7" y1="923" x2="700.7" y2="955.5" stroke="#d4d4d4"/>
<line x1="726.3" y1="955.5" x2="726.3" y2="1022"/>
<line x1="726.3" y1="923" x2="726.3" y2="955.5" stroke="#d4d4d4"/>
<line x1="751.9" y1="955.5" x2="751.9" y2="1022"/>
<line x1="751.9" y1="923" x2="751.9" y2="955.5" stroke="#d4d4d4"/>
<line x1="777.5" y1="955.5" x2="777.5" y2="1022"/>
<line x1="777.5" y1="923" x2="777.5" y2="955.5" stroke="#d4d4d4"/>
<line x1="803.1" y1="955.5" x2="803.1" y2="1022"/>
<line x1="803.1" y1="923" x2="803.1" y2="955.5" stroke="#d4d4d4"/>
<line x1="828.7" y1="955.5" x2="828.7" y2="1022"/>
<line x1="828.7" y1="923" x2="828.7" y2="955.5" stroke="#d4d4d4"/>
<line x1="854.3" y1="955.5" x2="854.3" y2="1022"/>
<line x1="854.3" y1="923" x2="854.3" y2="955.5" stroke="#d4d4d4"/>
<line x1="879.9" y1="955.5" x2="879.9" y2="1022"/>
<line x1="879.9" y1="923" x2="879.9" y2="955.5" stroke="#d4d4d4"/>
<line x1="905.5" y1="955.5" x2="905.5" y2="1022"/>
<line x1="905.5" y1="923" x2="905.5" y2="955.5" stroke="#d4d4d4"/>
<line x1="931.1" y1="955.5" x2="931.1" y2="1022"/>
<line x1="931.1" y1="923" x2="931.1" y2="955.5" stroke="#d4d4d4"/>
<line x1="956.7" y1="955.5" x2="956.7" y2="1022"/>
<line x1="956.7" y1="923" x2="956.7" y2="955.5" stroke="#d4d4d4"/>
<line x1="982.3" y1="955.5" x2="982.3" y2="1022"/>
<line x1="982.3" y1="923" x2="982.3" y2="955.5" stroke="#d4d4d4"/>
<line x1="1007.9" y1="955.5" x2="1007.9" y2="1022"/>
<line x1="1007.9" y1="923" x2="1007.9" y2="955.5" stroke="#d4d4d4"/>
<line x1="1033.5" y1="955.5" x2="1033.5" y2="1022"/>
<line x1="1033.5" y1="923" x2="1033.5" y2="955.5" stroke="#d4d4d4"/>
<line x1="1059.1" y1="955.5" x2="1059.1" y2="1022"/>
<line x1="1059.1" y1="923" x2="1059.1" y2="955.5" stroke="#d4d4d4"/>
<line x1="1084.7" y1="955.5" x2="1084.7" y2="1022"/>
<line x1="1084.7" y1="923" x2="1084.7" y2="955.5" stroke="#d4d4d4"/>
<line x1="1110.3" y1="955.5" x2="1110.3" y2="1022"/>
<line x1="1110.3" y1="923" x2="1110.3" y2="955.5" stroke="#d4d4d4"/>
<line x1="1135.9" y1="955.5" x2="1135.9" y2="1022"/>
<line x1="1135.9" y1="923" x2="1135.9" y2="955.5" stroke="#d4d4d4"/>
<line x1="1161.5" y1="955.5" x2="1161.5" y2="1022"/>
<line x1="1161.5" y1="923" x2="1161.5" y2="955.5" stroke="#d4d4d4"/>
<line x1="1187.1" y1="955.5" x2="1187.1" y2="1022"/>
<line x1="1187.1" y1="923" x2="1187.1" y2="955.5" stroke="#d4d4d4"/>
<line x1="1212.7" y1="955.5" x2="1212.7" y2="1022"/>
<line x1="1212.7" y1="923" x2="1212.7" y2="955.5" stroke="#d4d4d4"/>
<line x1="1238.3" y1="955.5" x2="1238.3" y2="1022"/>
<line x1="1238.3" y1="923" x2="1238.3" y2="955.5" stroke="#d4d4d4"/>
<line x1="1263.9" y1="955.5" x2="1263.9" y2="1022"/>
<line x1="1263.9" y1="923" x2="1263.9" y2="955.5" stroke="#d4d4d4"/>
<line x1="1289.5" y1="955.5" x2="1289.5" y2="1022"/>
<line x1="1289.5" y1="923" x2="1289.5" y2="955.5" stroke="#d4d4d4"/>
<line x1="1315.1" y1="955.5" x2="1315.1" y2="1022"/>
<line x1="1315.1" y1="923" x2="1315.1" y2="955.5" stroke="#d4d4d4"/>
<line x1="1340.7" y1="955.5" x2="1340.7" y2="1022"/>
<line x1="1340.7" y1="923" x2="1340.7" y2="955.5" stroke="#d4d4d4"/>
<line x1="1366.3" y1="955.5" x2="1366.3" y2="1022"/>
<line x1="1366.3" y1="923" x2="1366.3" y2="955.5" stroke="#d4d4d4"/>
<line x1="1391.9" y1="955.5" x2="1391.9" y2="1022"/>
<line x1="1391.9" y1="923" x2="1391.9" y2="955.5" stroke="#d4d4d4"/>
<line x1="1417.5" y1="955.5" x2="1417.5" y2="1022"/>
<line x1="1417.5" y1="923" x2="1417.5" y2="955.5" stroke="#d4d4d4"/>
<line x1="1443.1" y1="955.5" x2="1443.1" y2="1022"/>
<line x1="1443.1" y1="923" x2="1443.1" y2="955.5" stroke="#d4d4d4"/>
<line x1="85.5" y1="955.5" x2="1443" y2="955.5"/>
<line x1="85.5" y1="977" x2="1443" y2="977"/>
<line x1="85.5" y1="1001" x2="1443" y2="1001"/>
<line x1="85.5" y1="1022" x2="1443" y2="1022"/>
<line x1="85.5" y1="955.5" x2="85.5" y2="1022"/>
</g>
<g fill="#8c8c8c">
<rect x="135.5" y="953.5" width="4" height="4"/>
<rect x="135.5" y="975.0" width="4" height="4"/>
<rect x="135.5" y="999.0" width="4" height="4"/>
<rect x="135.5" y="1020.0" width="4" height="4"/>
<rect x="161.1" y="953.5" width="4" height="4"/>
<rect x="161.1" y="975.0" width="4" height="4"/>
<rect x="161.1" y="999.0" width="4" height="4"/>
<rect x="161.1" y="1020.0" width="4" height="4"/>
<rect x="186.7" y="953.5" width="4" height="4"/>
<rect x="186.7" y="975.0" width="4" height="4"/>
<rect x="186.7" y="999.0" width="4" height="4"/>
<rect x="186.7" y="1020.0" width="4" height="4"/>
<rect x="212.3" y="953.5" width="4" height="4"/>
<rect x="212.3" y="975.0" width="4" height="4"/>
<rect x="212.3" y="999.0" width="4" height="4"/>
<rect x="212.3" y="1020.0" width="4" height="4"/>
<rect x="237.9" y="953.5" width="4" height="4"/>
<rect x="237.9" y="975.0" width="4" height="4"/>
<rect x="237.9" y="999.0" width="4" height="4"/>
<rect x="237.9" y="1020.0" width="4" height="4"/>
<rect x="263.5" y="953.5" width="4" height="4"/>
<rect x="263.5" y="975.0" width="4" height="4"/>
<rect x="263.5" y="999.0" width="4" height="4"/>
<rect x="263.5" y="1020.0" width="4" height="4"/>
<rect x="289.1" y="953.5" width="4" height="4"/>
<rect x="289.1" y="975.0" width="4" height="4"/>
<rect x="289.1" y="999.0" width="4" height="4"/>
<rect x="289.1" y="1020.0" width="4" height="4"/>
<rect x="314.7" y="953.5" width="4" height="4"/>
<rect x="314.7" y="975.0" width="4" height="4"/>
<rect x="314.7" y="999.0" width="4" height="4"/>
<rect x="314.7" y="1020.0" width="4" height="4"/>
<rect x="340.3" y="953.5" width="4" height="4"/>
<rect x="340.3" y="975.0" width="4" height="4"/>
<rect x="340.3" y="999.0" width="4" height="4"/>
<rect x="340.3" y="1020.0" width="4" height="4"/>
<rect x="365.9" y="953.5" width="4" height="4"/>
<rect x="365.9" y="975.0" width="4" height="4"/>
<rect x="365.9" y="999.0" width="4" height="4"/>
<rect x="365.9" y="1020.0" width="4" height="4"/>
<rect x="391.5" y="953.5" width="4" height="4"/>
<rect x="391.5" y="975.0" width="4" height="4"/>
<rect x="391.5" y="999.0" width="4" height="4"/>
<rect x="391.5" y="1020.0" width="4" height="4"/>
<rect x="417.1" y="953.5" width="4" height="4"/>
<rect x="417.1" y="975.0" width="4" height="4"/>
<rect x="417.1" y="999.0" width="4" height="4"/>
<rect x="417.1" y="1020.0" width="4" height="4"/>
<rect x="442.7" y="953.5" width="4" height="4"/>
<rect x="442.7" y="975.0" width="4" height="4"/>
<rect x="442.7" y="999.0" width="4" height="4"/>
<rect x="442.7" y="1020.0" width="4" height="4"/>
<rect x="468.3" y="953.5" width="4" height="4"/>
<rect x="468.3" y="975.0" width="4" height="4"/>
<rect x="468.3" y="999.0" width="4" height="4"/>
<rect x="468.3" y="1020.0" width="4" height="4"/>
<rect x="493.9" y="953.5" width="4" height="4"/>
<rect x="493.9" y="975.0" width="4" height="4"/>
<rect x="493.9" y="999.0" width="4" height="4"/>
<rect x="493.9" y="1020.0" width="4" height="4"/>
<rect x="519.5" y="953.5" width="4" height="4"/>
<rect x="519.5" y="975.0" width="4" height="4"/>
<rect x="519.5" y="999.0" width="4" height="4"/>
<rect x="519.5" y="1020.0" width="4" height="4"/>
<rect x="545.1" y="953.5" width="4" height="4"/>
<rect x="545.1" y="975.0" width="4" height="4"/>
<rect x="545.1" y="999.0" width="4" height="4"/>
<rect x="545.1" y="1020.0" width="4" height="4"/>
<rect x="570.7" y="953.5" width="4" height="4"/>
<rect x="570.7" y="975.0" width="4" height="4"/>
<rect x="570.7" y="999.0" width="4" height="4"/>
<rect x="570.7" y="1020.0" width="4" height="4"/>
<rect x="596.3" y="953.5" width="4" height="4"/>
<rect x="596.3" y="975.0" width="4" height="4"/>
<rect x="596.3" y="999.0" width="4" height="4"/>
<rect x="596.3" y="1020.0" width="4" height="4"/>
<rect x="621.9" y="953.5" width="4" height="4"/>
<rect x="621.9" y="975.0" width="4" height="4"/>
<rect x="621.9" y="999.0" width="4" height="4"/>
<rect x="621.9" y="1020.0" width="4" height="4"/>
<rect x="647.5" y="953.5" width="4" height="4"/>
<rect x="647.5" y="975.0" width="4" height="4"/>
<rect x="647.5" y="999.0" width="4" height="4"/>
<rect x="647.5" y="1020.0" width="4" height="4"/>
<rect x="673.1" y="953.5" width="4" height="4"/>
<rect x="673.1" y="975.0" width="4" height="4"/>
<rect x="673.1" y="999.0" width="4" height="4"/>
<rect x="673.1" y="1020.0" width="4" height="4"/>
<rect x="698.7" y="953.5" width="4" height="4"/>
<rect x="698.7" y="975.0" width="4" height="4"/>
<rect x="698.7" y="999.0" width="4" height="4"/>
<rect x="698.7" y="1020.0" width="4" height="4"/>
<rect x="724.3" y="953.5" width="4" height="4"/>
<rect x="724.3" y="975.0" width="4" height="4"/>
<rect x="724.3" y="999.0" width="4" height="4"/>
<rect x="724.3" y="1020.0" width="4" height="4"/>
<rect x="749.9" y="953.5" width="4" height="4"/>
<rect x="749.9" y="975.0" width="4" height="4"/>
<rect x="749.9" y="999.0" width="4" height="4"/>
<rect x="749.9" y="1020.0" width="4" height="4"/>
<rect x="775.5" y="953.5" width="4" height="4"/>
<rect x="775.5" y="975.0" width="4" height="4"/>
<rect x="775.5" y="999.0" width="4" height="4"/>
<rect x="775.5" y="1020.0" width="4" height="4"/>
<rect x="801.1" y="953.5" width="4" height="4"/>
<rect x="801.1" y="975.0" width="4" height="4"/>
<rect x="801.1" y="999.0" width="4" height="4"/>
<rect x="801.1" y="1020.0" width="4" height="4"/>
<rect x="826.7" y="953.5" width="4" height="4"/>
<rect x="826.7" y="975.0" width="4" height="4"/>
<rect x="826.7" y="999.0" width="4" height="4"/>
<rect x="826.7" y="1020.0" width="4" height="4"/>
<rect x="852.3" y="953.5" width="4" height="4"/>
<rect x="852.3" y="975.0" width="4" height="4"/>
<rect x="852.3" y="999.0" width="4" height="4"/>
<rect x="852.3" y="1020.0" width="4" height="4"/>
<rect x="877.9" y="953.5" width="4" height="4"/>
<rect x="877.9" y="975.0" width="4" height="4"/>
<rect x="877.9" y="999.0" width="4" height="4"/>
<rect x="877.9" y="1020.0" width="4" height="4"/>
<rect x="903.5" y="953.5" width="4" height="4"/>
<rect x="903.5" y="975.0" width="4" height="4"/>
<rect x="903.5" y="999.0" width="4" height="4"/>
<rect x="903.5" y="1020.0" width="4" height="4"/>
<rect x="929.1" y="953.5" width="4" height="4"/>
<rect x="929.1" y="975.0" width="4" height="4"/>
<rect x="929.1" y="999.0" width="4" height="4"/>
<rect x="929.1" y="1020.0" width="4" height="4"/>
<rect x="954.7" y="953.5" width="4" height="4"/>
<rect x="954.7" y="975.0" width="4" height="4"/>
<rect x="954.7" y="999.0" width="4" height="4"/>
<rect x="954.7" y="1020.0" width="4" height="4"/>
<rect x="980.3" y="953.5" width="4" height="4"/>
<rect x="980.3" y="975.0" width="4" height="4"/>
<rect x="980.3" y="999.0" width="4" height="4"/>
<rect x="980.3" y="1020.0" width="4" height="4"/>
<rect x="1005.9" y="953.5" width="4" height="4"/>
<rect x="1005.9" y="975.0" width="4" height="4"/>
<rect x="1005.9" y="999.0" width="4" height="4"/>
<rect x="1005.9" y="1020.0" width="4" height="4"/>
<rect x="1031.5" y="953.5" width="4" height="4"/>
<rect x="1031.5" y="975.0" width="4" height="4"/>
<rect x="1031.5" y="999.0" width="4" height="4"/>
<rect x="1031.5" y="1020.0" width="4" height="4"/>
<rect x="1057.1" y="953.5" width="4" height="4"/>
<rect x="1057.1" y="975.0" width="4" height="4"/>
<rect x="1057.1" y="999.0" width="4" height="4"/>
<rect x="1057.1" y="1020.0" width="4" height="4"/>
<rect x="1082.7" y="953.5" width="4" height="4"/>
<rect x="1082.7" y="975.0" width="4" height="4"/>
<rect x="1082.7" y="999.0" width="4" height="4"/>
<rect x="1082.7" y="1020.0" width="4" height="4"/>
<rect x="1108.3" y="953.5" width="4" height="4"/>
<rect x="1108.3" y="975.0" width="4" height="4"/>
<rect x="1108.3" y="999.0" width="4" height="4"/>
<rect x="1108.3" y="1020.0" width="4" height="4"/>
<rect x="1133.9" y="953.5" width="4" height="4"/>
<rect x="1133.9" y="975.0" width="4" height="4"/>
<rect x="1133.9" y="999.0" width="4" height="4"/>
<rect x="1133.9" y="1020.0" width="4" height="4"/>
<rect x="1159.5" y="953.5" width="4" height="4"/>
<rect x="1159.5" y="975.0" width="4" height="4"/>
<rect x="1159.5" y="999.0" width="4" height="4"/>
<rect x="1159.5" y="1020.0" width="4" height="4"/>
<rect x="1185.1" y="953.5" width="4" height="4"/>
<rect x="1185.1" y="975.0" width="4" height="4"/>
<rect x="1185.1" y="999.0" width="4" height="4"/>
<rect x="1185.1" y="1020.0" width="4" height="4"/>
<rect x="1210.7" y="953.5" width="4" height="4"/>
<rect x="1210.7" y="975.0" width="4" height="4"/>
<rect x="1210.7" y="999.0" width="4" height="4"/>
<rect x="1210.7" y="1020.0" width="4" height="4"/>
<rect x="1236.3" y="953.5" width="4" height="4"/>
<rect x="1236.3" y="975.0" width="4" height="4"/>
<rect x="1236.3" y="999.0" width="4" height="4"/>
<rect x="1236.3" y="1020.0" width="4" height="4"/>
<rect x="1261.9" y="953.5" width="4" height="4"/>
<rect x="1261.9" y="975.0" width="4" height="4"/>
<rect x="1261.9" y="999.0" width="4" height="4"/>
<rect x="1261.9" y="1020.0" width="4" height="4"/>
<rect x="1287.5" y="953.5" width="4" height="4"/>
<rect x="1287.5" y="975.0" width="4" height="4"/>
<rect x="1287.5" y="999.0" width="4" height="4"/>
<rect x="1287.5" y="1020.0" width="4" height="4"/>
<rect x="1313.1" y="953.5" width="4" height="4"/>
<rect x="1313.1" y="975.0" width="4" height="4"/>
<rect x="1313.1" y="999.0" width="4" height="4"/>
<rect x="1313.1" y="1020.0" width="4" height="4"/>
<rect x="1338.7" y="953.5" width="4" height="4"/>
<rect x="1338.7" y="975.0" width="4" height="4"/>
<rect x="1338.7" y="999.0" width="4" height="4"/>
<rect x="1338.7" y="1020.0" width="4" height="4"/>
<rect x="1364.3" y="953.5" width="4" height="4"/>
<rect x="1364.3" y="975.0" width="4" height="4"/>
<rect x="1364.3" y="999.0" width="4" height="4"/>
<rect x="1364.3" y="1020.0" width="4" height="4"/>
<rect x="1389.9" y="953.5" width="4" height="4"/>
<rect x="1389.9" y="975.0" width="4" height="4"/>
<rect x="1389.9" y="999.0" width="4" height="4"/>
<rect x="1389.9" y="1020.0" width="4" height="4"/>
<rect x="1415.5" y="953.5" width="4" height="4"/>
<rect x="1415.5" y="975.0" width="4" height="4"/>
<rect x="1415.5" y="999.0" width="4" height="4"/>
<rect x="1415.5" y="1020.0" width="4" height="4"/>
<rect x="1441.1" y="953.5" width="4" height="4"/>
<rect x="1441.1" y="975.0" width="4" height="4"/>
<rect x="1441.1" y="999.0" width="4" height="4"/>
<rect x="1441.1" y="1020.0" width="4" height="4"/>
</g>
<rect x="91.50" y="963.50" width="4.00" height="4.00" fill="#eea457"/>
<rect x="91.50" y="987.00" width="4.00" height="4.00" fill="#8a90da"/>
<text x="99.0" y="968.5" font-size="7" fill="#888" text-anchor="start" textLength="28.0" lengthAdjust="spacingAndGlyphs">Deaths</text>
<text x="99.0" y="992.0" font-size="7" fill="#888" text-anchor="start" textLength="24.0" lengthAdjust="spacingAndGlyphs">Cases</text>
<text x="133.0" y="1014.5" font-size="7" fill="#888" text-anchor="end" textLength="24.0" lengthAdjust="spacingAndGlyphs">Totals</text>
<g font-size="7.5" fill="#6a6a6a" text-anchor="middle">
<text x="150.3" y="934">28-</text>
<text x="150.3" y="947">Mar</text>
<text x="150.3" y="969.5" fill="#555" font-size="8.5">0</text>
<text x="150.3" y="992.5" fill="#888" font-size="8.5">0</text>
<text x="150.3" y="1015" fill="#555" font-size="8.5">0</text>
<text x="175.9" y="934">4-</text>
<text x="175.9" y="947">Mar</text>
<text x="175.9" y="969.5" fill="#555" font-size="8.5">0</text>
<text x="175.9" y="992.5" fill="#888" font-size="8.5">4</text>
<text x="175.9" y="1015" fill="#555" font-size="8.5">4</text>
<text x="201.5" y="934">11-</text>
<text x="201.5" y="947">Apr</text>
<text x="201.5" y="969.5" fill="#555" font-size="8.5">0</text>
<text x="201.5" y="992.5" fill="#888" font-size="8.5">3</text>
<text x="201.5" y="1015" fill="#555" font-size="8.5">3</text>
<text x="227.1" y="934">18-</text>
<text x="227.1" y="947">Apr</text>
<text x="227.1" y="969.5" fill="#555" font-size="8.5">0</text>
<text x="227.1" y="992.5" fill="#888" font-size="8.5">4</text>
<text x="227.1" y="1015" fill="#555" font-size="8.5">4</text>
<text x="252.7" y="934">25-</text>
<text x="252.7" y="947">Apr</text>
<text x="252.7" y="969.5" fill="#555" font-size="8.5">0</text>
<text x="252.7" y="992.5" fill="#888" font-size="8.5">5</text>
<text x="252.7" y="1015" fill="#555" font-size="8.5">5</text>
<text x="278.3" y="934">2-</text>
<text x="278.3" y="947">Apr</text>
<text x="278.3" y="969.5" fill="#555" font-size="8.5">0</text>
<text x="278.3" y="992.5" fill="#888" font-size="8.5">7</text>
<text x="278.3" y="1015" fill="#555" font-size="8.5">7</text>
<text x="303.9" y="934">9-</text>
<text x="303.9" y="947">May</text>
<text x="303.9" y="969.5" fill="#555" font-size="8.5">0</text>
<text x="303.9" y="992.5" fill="#888" font-size="8.5">7</text>
<text x="303.9" y="1015" fill="#555" font-size="8.5">7</text>
<text x="329.5" y="934">16-</text>
<text x="329.5" y="947">May</text>
<text x="329.5" y="969.5" fill="#555" font-size="8.5">0</text>
<text x="329.5" y="992.5" fill="#888" font-size="8.5">5</text>
<text x="329.5" y="1015" fill="#555" font-size="8.5">5</text>
<text x="355.1" y="934">23-</text>
<text x="355.1" y="947">May</text>
<text x="355.1" y="969.5" fill="#555" font-size="8.5">0</text>
<text x="355.1" y="992.5" fill="#888" font-size="8.5">14</text>
<text x="355.1" y="1015" fill="#555" font-size="8.5">14</text>
<text x="380.7" y="934">30-</text>
<text x="380.7" y="947">May</text>
<text x="380.7" y="969.5" fill="#555" font-size="8.5">1</text>
<text x="380.7" y="992.5" fill="#888" font-size="8.5">22</text>
<text x="380.7" y="1015" fill="#555" font-size="8.5">23</text>
<text x="406.3" y="934">6-</text>
<text x="406.3" y="947">May</text>
<text x="406.3" y="969.5" fill="#555" font-size="8.5">0</text>
<text x="406.3" y="992.5" fill="#888" font-size="8.5">20</text>
<text x="406.3" y="1015" fill="#555" font-size="8.5">20</text>
<text x="431.9" y="934">13-</text>
<text x="431.9" y="947">Jun</text>
<text x="431.9" y="969.5" fill="#555" font-size="8.5">0</text>
<text x="431.9" y="992.5" fill="#888" font-size="8.5">17</text>
<text x="431.9" y="1015" fill="#555" font-size="8.5">17</text>
<text x="457.5" y="934">20-</text>
<text x="457.5" y="947">Jun</text>
<text x="457.5" y="969.5" fill="#555" font-size="8.5">0</text>
<text x="457.5" y="992.5" fill="#888" font-size="8.5">17</text>
<text x="457.5" y="1015" fill="#555" font-size="8.5">17</text>
<text x="483.1" y="934">27-</text>
<text x="483.1" y="947">Jun</text>
<text x="483.1" y="969.5" fill="#555" font-size="8.5">1</text>
<text x="483.1" y="992.5" fill="#888" font-size="8.5">26</text>
<text x="483.1" y="1015" fill="#555" font-size="8.5">27</text>
<text x="508.7" y="934">4-</text>
<text x="508.7" y="947">Jun</text>
<text x="508.7" y="969.5" fill="#555" font-size="8.5">2</text>
<text x="508.7" y="992.5" fill="#888" font-size="8.5">28</text>
<text x="508.7" y="1015" fill="#555" font-size="8.5">30</text>
<text x="534.3" y="934">11-</text>
<text x="534.3" y="947">Jul</text>
<text x="534.3" y="969.5" fill="#555" font-size="8.5">3</text>
<text x="534.3" y="992.5" fill="#888" font-size="8.5">52</text>
<text x="534.3" y="1015" fill="#555" font-size="8.5">55</text>
<text x="559.9" y="934">18-</text>
<text x="559.9" y="947">Jul</text>
<text x="559.9" y="969.5" fill="#555" font-size="8.5">2</text>
<text x="559.9" y="992.5" fill="#888" font-size="8.5">32</text>
<text x="559.9" y="1015" fill="#555" font-size="8.5">34</text>
<text x="585.5" y="934">25-</text>
<text x="585.5" y="947">Jul</text>
<text x="585.5" y="969.5" fill="#555" font-size="8.5">3</text>
<text x="585.5" y="992.5" fill="#888" font-size="8.5">83</text>
<text x="585.5" y="1015" fill="#555" font-size="8.5">86</text>
<text x="611.1" y="934">1-</text>
<text x="611.1" y="947">Jul</text>
<text x="611.1" y="969.5" fill="#555" font-size="8.5">0</text>
<text x="611.1" y="992.5" fill="#888" font-size="8.5">74</text>
<text x="611.1" y="1015" fill="#555" font-size="8.5">74</text>
<text x="636.7" y="934">8-</text>
<text x="636.7" y="947">Aug</text>
<text x="636.7" y="969.5" fill="#555" font-size="8.5">1</text>
<text x="636.7" y="992.5" fill="#888" font-size="8.5">36</text>
<text x="636.7" y="1015" fill="#555" font-size="8.5">37</text>
<text x="662.3" y="934">15-</text>
<text x="662.3" y="947">Aug</text>
<text x="662.3" y="969.5" fill="#555" font-size="8.5">0</text>
<text x="662.3" y="992.5" fill="#888" font-size="8.5">94</text>
<text x="662.3" y="1015" fill="#555" font-size="8.5">94</text>
<text x="687.9" y="934">22-</text>
<text x="687.9" y="947">Aug</text>
<text x="687.9" y="969.5" fill="#555" font-size="8.5">2</text>
<text x="687.9" y="992.5" fill="#888" font-size="8.5">41</text>
<text x="687.9" y="1015" fill="#555" font-size="8.5">43</text>
<text x="713.5" y="934">29-</text>
<text x="713.5" y="947">Aug</text>
<text x="713.5" y="969.5" fill="#555" font-size="8.5">0</text>
<text x="713.5" y="992.5" fill="#888" font-size="8.5">22</text>
<text x="713.5" y="1015" fill="#555" font-size="8.5">22</text>
<text x="739.1" y="934">5-</text>
<text x="739.1" y="947">Aug</text>
<text x="739.1" y="969.5" fill="#555" font-size="8.5">0</text>
<text x="739.1" y="992.5" fill="#888" font-size="8.5">24</text>
<text x="739.1" y="1015" fill="#555" font-size="8.5">24</text>
<text x="764.7" y="934">12-</text>
<text x="764.7" y="947">Sep</text>
<text x="764.7" y="969.5" fill="#555" font-size="8.5">1</text>
<text x="764.7" y="992.5" fill="#888" font-size="8.5">12</text>
<text x="764.7" y="1015" fill="#555" font-size="8.5">13</text>
<text x="790.3" y="934">19-</text>
<text x="790.3" y="947">Sep</text>
<text x="790.3" y="969.5" fill="#555" font-size="8.5">0</text>
<text x="790.3" y="992.5" fill="#888" font-size="8.5">12</text>
<text x="790.3" y="1015" fill="#555" font-size="8.5">12</text>
<text x="815.9" y="934">26-</text>
<text x="815.9" y="947">Sep</text>
<text x="815.9" y="969.5" fill="#555" font-size="8.5">0</text>
<text x="815.9" y="992.5" fill="#888" font-size="8.5">9</text>
<text x="815.9" y="1015" fill="#555" font-size="8.5">9</text>
<text x="841.5" y="934">3-</text>
<text x="841.5" y="947">Sep</text>
<text x="841.5" y="969.5" fill="#555" font-size="8.5">0</text>
<text x="841.5" y="992.5" fill="#888" font-size="8.5">6</text>
<text x="841.5" y="1015" fill="#555" font-size="8.5">6</text>
<text x="867.1" y="934">10-</text>
<text x="867.1" y="947">Oct</text>
<text x="867.1" y="969.5" fill="#555" font-size="8.5">0</text>
<text x="867.1" y="992.5" fill="#888" font-size="8.5">15</text>
<text x="867.1" y="1015" fill="#555" font-size="8.5">15</text>
<text x="892.7" y="934">17-</text>
<text x="892.7" y="947">Oct</text>
<text x="892.7" y="969.5" fill="#555" font-size="8.5">2</text>
<text x="892.7" y="992.5" fill="#888" font-size="8.5">27</text>
<text x="892.7" y="1015" fill="#555" font-size="8.5">29</text>
<text x="918.3" y="934">24-</text>
<text x="918.3" y="947">Oct</text>
<text x="918.3" y="969.5" fill="#555" font-size="8.5">0</text>
<text x="918.3" y="992.5" fill="#888" font-size="8.5">25</text>
<text x="918.3" y="1015" fill="#555" font-size="8.5">25</text>
<text x="943.9" y="934">31-</text>
<text x="943.9" y="947">Oct</text>
<text x="943.9" y="969.5" fill="#555" font-size="8.5">0</text>
<text x="943.9" y="992.5" fill="#888" font-size="8.5">22</text>
<text x="943.9" y="1015" fill="#555" font-size="8.5">22</text>
<text x="969.5" y="934">7-</text>
<text x="969.5" y="947">Oct</text>
<text x="969.5" y="969.5" fill="#555" font-size="8.5">0</text>
<text x="969.5" y="992.5" fill="#888" font-size="8.5">36</text>
<text x="969.5" y="1015" fill="#555" font-size="8.5">36</text>
<text x="995.1" y="934">14-</text>
<text x="995.1" y="947">Nov</text>
<text x="995.1" y="969.5" fill="#555" font-size="8.5">0</text>
<text x="995.1" y="992.5" fill="#888" font-size="8.5">64</text>
<text x="995.1" y="1015" fill="#555" font-size="8.5">64</text>
<text x="1020.7" y="934">21-</text>
<text x="1020.7" y="947">Nov</text>
<text x="1020.7" y="969.5" fill="#555" font-size="8.5">0</text>
<text x="1020.7" y="992.5" fill="#888" font-size="8.5">51</text>
<text x="1020.7" y="1015" fill="#555" font-size="8.5">51</text>
<text x="1046.3" y="934">28-</text>
<text x="1046.3" y="947">Nov</text>
<text x="1046.3" y="969.5" fill="#555" font-size="8.5">3</text>
<text x="1046.3" y="992.5" fill="#888" font-size="8.5">87</text>
<text x="1046.3" y="1015" fill="#555" font-size="8.5">90</text>
<text x="1071.9" y="934">5-</text>
<text x="1071.9" y="947">Nov</text>
<text x="1071.9" y="969.5" fill="#555" font-size="8.5">6</text>
<text x="1071.9" y="992.5" fill="#888" font-size="8.5">112</text>
<text x="1071.9" y="1015" fill="#555" font-size="8.5">118</text>
<text x="1097.5" y="934">12-</text>
<text x="1097.5" y="947">Dec</text>
<text x="1097.5" y="969.5" fill="#555" font-size="8.5">4</text>
<text x="1097.5" y="992.5" fill="#888" font-size="8.5">72</text>
<text x="1097.5" y="1015" fill="#555" font-size="8.5">76</text>
<text x="1123.1" y="934">19-</text>
<text x="1123.1" y="947">Dec</text>
<text x="1123.1" y="969.5" fill="#555" font-size="8.5">7</text>
<text x="1123.1" y="992.5" fill="#888" font-size="8.5">121</text>
<text x="1123.1" y="1015" fill="#555" font-size="8.5">128</text>
<text x="1148.7" y="934">26-</text>
<text x="1148.7" y="947">Dec</text>
<text x="1148.7" y="969.5" fill="#555" font-size="8.5">7</text>
<text x="1148.7" y="992.5" fill="#888" font-size="8.5">151</text>
<text x="1148.7" y="1015" fill="#555" font-size="8.5">158</text>
<text x="1174.3" y="934">2-</text>
<text x="1174.3" y="947">Dec</text>
<text x="1174.3" y="969.5" fill="#555" font-size="8.5">4</text>
<text x="1174.3" y="992.5" fill="#888" font-size="8.5">108</text>
<text x="1174.3" y="1015" fill="#555" font-size="8.5">112</text>
<text x="1199.9" y="934">9-</text>
<text x="1199.9" y="947">Jan</text>
<text x="1199.9" y="969.5" fill="#555" font-size="8.5">8</text>
<text x="1199.9" y="992.5" fill="#888" font-size="8.5">118</text>
<text x="1199.9" y="1015" fill="#555" font-size="8.5">126</text>
<text x="1225.5" y="934">16-</text>
<text x="1225.5" y="947">Jan</text>
<text x="1225.5" y="969.5" fill="#555" font-size="8.5">5</text>
<text x="1225.5" y="992.5" fill="#888" font-size="8.5">94</text>
<text x="1225.5" y="1015" fill="#555" font-size="8.5">99</text>
<text x="1251.1" y="934">23-</text>
<text x="1251.1" y="947">Jan</text>
<text x="1251.1" y="969.5" fill="#555" font-size="8.5">2</text>
<text x="1251.1" y="992.5" fill="#888" font-size="8.5">67</text>
<text x="1251.1" y="1015" fill="#555" font-size="8.5">69</text>
<text x="1276.7" y="934">30-</text>
<text x="1276.7" y="947">Jan</text>
<text x="1276.7" y="969.5" fill="#555" font-size="8.5">0</text>
<text x="1276.7" y="992.5" fill="#888" font-size="8.5">60</text>
<text x="1276.7" y="1015" fill="#555" font-size="8.5">60</text>
<text x="1302.3" y="934">6-</text>
<text x="1302.3" y="947">Jan</text>
<text x="1302.3" y="969.5" fill="#555" font-size="8.5">0</text>
<text x="1302.3" y="992.5" fill="#888" font-size="8.5">60</text>
<text x="1302.3" y="1015" fill="#555" font-size="8.5">60</text>
<text x="1327.9" y="934">13-</text>
<text x="1327.9" y="947">Feb</text>
<text x="1327.9" y="969.5" fill="#555" font-size="8.5">3</text>
<text x="1327.9" y="992.5" fill="#888" font-size="8.5">64</text>
<text x="1327.9" y="1015" fill="#555" font-size="8.5">67</text>
<text x="1353.5" y="934">20-</text>
<text x="1353.5" y="947">Feb</text>
<text x="1353.5" y="969.5" fill="#555" font-size="8.5">0</text>
<text x="1353.5" y="992.5" fill="#888" font-size="8.5">24</text>
<text x="1353.5" y="1015" fill="#555" font-size="8.5">24</text>
<text x="1379.1" y="934">27-</text>
<text x="1379.1" y="947">Feb</text>
<text x="1379.1" y="969.5" fill="#555" font-size="8.5">0</text>
<text x="1379.1" y="992.5" fill="#888" font-size="8.5">19</text>
<text x="1379.1" y="1015" fill="#555" font-size="8.5">19</text>
<text x="1404.7" y="934">6-</text>
<text x="1404.7" y="947">Feb</text>
<text x="1404.7" y="969.5" fill="#555" font-size="8.5">0</text>
<text x="1404.7" y="992.5" fill="#888" font-size="8.5">16</text>
<text x="1404.7" y="1015" fill="#555" font-size="8.5">16</text>
<text x="1430.3" y="934">13-</text>
<text x="1430.3" y="947">Feb</text>
<text x="1430.3" y="969.5" fill="#555" font-size="8.5">0</text>
<text x="1430.3" y="992.5" fill="#888" font-size="8.5">13</text>
<text x="1430.3" y="1015" fill="#555" font-size="8.5">13</text>
</g>
<text x="748.0" y="1107.3" font-size="27" font-weight="bold" fill="#000" text-anchor="middle" textLength="245.5" lengthAdjust="spacingAndGlyphs">Total Cases, By Age</text>
<text x="747.2" y="1146.8" font-size="27" font-weight="bold" fill="#000" text-anchor="middle" textLength="500.0" lengthAdjust="spacingAndGlyphs">July 2020-February 2021 (End of Week)</text>
<line x1="117.00" y1="1468.30" x2="1442.00" y2="1468.30" stroke="#e4e4e4" stroke-width="1.6"/>
<text x="88.4" y="1477.8" font-size="26.5" fill="#5e5e5e" text-anchor="end" textLength="17.0" lengthAdjust="spacingAndGlyphs">0</text>
<line x1="117.00" y1="1364.20" x2="1442.00" y2="1364.20" stroke="#e4e4e4" stroke-width="1.6"/>
<text x="88.4" y="1373.7" font-size="26.5" fill="#5e5e5e" text-anchor="end" textLength="32.0" lengthAdjust="spacingAndGlyphs">20</text>
<line x1="117.00" y1="1260.10" x2="1442.00" y2="1260.10" stroke="#e4e4e4" stroke-width="1.6"/>
<text x="88.4" y="1269.6" font-size="26.5" fill="#5e5e5e" text-anchor="end" textLength="32.0" lengthAdjust="spacingAndGlyphs">40</text>
<polyline points="118.5,1453.7 157.4,1447.5 196.3,1458.9 235.2,1468.3 274.1,1438.1 313.0,1451.1 351.9,1465.2 390.8,1461.0 429.7,1465.2 468.6,1465.7 507.5,1466.7 546.4,1466.7 585.3,1468.3 624.2,1468.3 663.1,1468.3 702.0,1468.3 740.9,1468.3 779.8,1461.0 818.7,1465.2 857.6,1458.9 896.5,1452.7 935.4,1462.1 974.3,1445.4 1013.2,1448.0 1052.1,1454.8 1091.0,1444.4 1129.9,1464.1 1168.8,1468.3 1207.7,1453.2 1246.6,1468.3 1285.5,1467.3 1324.4,1468.3 1363.3,1468.3 1402.2,1468.3 1441.1,1468.3" fill="none" stroke="#6673d0" stroke-width="4.2" stroke-linejoin="round" stroke-linecap="round"/>
<path d="M118.5,1446.5 L125.7,1453.7 L118.5,1460.9 L111.3,1453.7 Z" fill="#6673d0"/>
<path d="M157.4,1440.3 L164.6,1447.5 L157.4,1454.7 L150.2,1447.5 Z" fill="#6673d0"/>
<path d="M196.3,1451.7 L203.5,1458.9 L196.3,1466.1 L189.1,1458.9 Z" fill="#6673d0"/>
<path d="M235.2,1461.1 L242.4,1468.3 L235.2,1475.5 L228.0,1468.3 Z" fill="#6673d0"/>
<path d="M274.1,1430.9 L281.3,1438.1 L274.1,1445.3 L266.9,1438.1 Z" fill="#6673d0"/>
<path d="M313.0,1443.9 L320.2,1451.1 L313.0,1458.3 L305.8,1451.1 Z" fill="#6673d0"/>
<path d="M351.9,1458.0 L359.1,1465.2 L351.9,1472.4 L344.7,1465.2 Z" fill="#6673d0"/>
<path d="M390.8,1453.8 L398.0,1461.0 L390.8,1468.2 L383.6,1461.0 Z" fill="#6673d0"/>
<path d="M429.7,1458.0 L436.9,1465.2 L429.7,1472.4 L422.5,1465.2 Z" fill="#6673d0"/>
<path d="M468.6,1458.5 L475.8,1465.7 L468.6,1472.9 L461.4,1465.7 Z" fill="#6673d0"/>
<path d="M507.5,1459.5 L514.7,1466.7 L507.5,1473.9 L500.3,1466.7 Z" fill="#6673d0"/>
<path d="M546.4,1459.5 L553.6,1466.7 L546.4,1473.9 L539.2,1466.7 Z" fill="#6673d0"/>
<path d="M585.3,1461.1 L592.5,1468.3 L585.3,1475.5 L578.1,1468.3 Z" fill="#6673d0"/>
<path d="M624.2,1461.1 L631.4,1468.3 L624.2,1475.5 L617.0,1468.3 Z" fill="#6673d0"/>
<path d="M663.1,1461.1 L670.3,1468.3 L663.1,1475.5 L655.9,1468.3 Z" fill="#6673d0"/>
<path d="M702.0,1461.1 L709.2,1468.3 L702.0,1475.5 L694.8,1468.3 Z" fill="#6673d0"/>
<path d="M740.9,1461.1 L748.1,1468.3 L740.9,1475.5 L733.7,1468.3 Z" fill="#6673d0"/>
<path d="M779.8,1453.8 L787.0,1461.0 L779.8,1468.2 L772.6,1461.0 Z" fill="#6673d0"/>
<path d="M818.7,1458.0 L825.9,1465.2 L818.7,1472.4 L811.5,1465.2 Z" fill="#6673d0"/>
<path d="M857.6,1451.7 L864.8,1458.9 L857.6,1466.1 L850.4,1458.9 Z" fill="#6673d0"/>
<path d="M896.5,1445.5 L903.7,1452.7 L896.5,1459.9 L889.3,1452.7 Z" fill="#6673d0"/>
<path d="M935.4,1454.9 L942.6,1462.1 L935.4,1469.3 L928.2,1462.1 Z" fill="#6673d0"/>
<path d="M974.3,1438.2 L981.5,1445.4 L974.3,1452.6 L967.1,1445.4 Z" fill="#6673d0"/>
<path d="M1013.2,1440.8 L1020.4,1448.0 L1013.2,1455.2 L1006.0,1448.0 Z" fill="#6673d0"/>
<path d="M1052.1,1447.6 L1059.3,1454.8 L1052.1,1462.0 L1044.9,1454.8 Z" fill="#6673d0"/>
<path d="M1091.0,1437.2 L1098.2,1444.4 L1091.0,1451.6 L1083.8,1444.4 Z" fill="#6673d0"/>
<path d="M1129.9,1456.9 L1137.1,1464.1 L1129.9,1471.3 L1122.7,1464.1 Z" fill="#6673d0"/>
<path d="M1168.8,1461.1 L1176.0,1468.3 L1168.8,1475.5 L1161.6,1468.3 Z" fill="#6673d0"/>
<path d="M1207.7,1446.0 L1214.9,1453.2 L1207.7,1460.4 L1200.5,1453.2 Z" fill="#6673d0"/>
<path d="M1246.6,1461.1 L1253.8,1468.3 L1246.6,1475.5 L1239.4,1468.3 Z" fill="#6673d0"/>
<path d="M1285.5,1460.1 L1292.7,1467.3 L1285.5,1474.5 L1278.3,1467.3 Z" fill="#6673d0"/>
<path d="M1324.4,1461.1 L1331.6,1468.3 L1324.4,1475.5 L1317.2,1468.3 Z" fill="#6673d0"/>
<path d="M1363.3,1461.1 L1370.5,1468.3 L1363.3,1475.5 L1356.1,1468.3 Z" fill="#6673d0"/>
<path d="M1402.2,1461.1 L1409.4,1468.3 L1402.2,1475.5 L1395.0,1468.3 Z" fill="#6673d0"/>
<path d="M1441.1,1461.1 L1448.3,1468.3 L1441.1,1475.5 L1433.9,1468.3 Z" fill="#6673d0"/>
<polyline points="118.5,1463.1 157.4,1438.1 196.3,1445.4 235.2,1444.4 274.1,1413.6 313.0,1447.5 351.9,1463.1 390.8,1467.3 429.7,1468.3 468.6,1468.3 507.5,1456.8 546.4,1444.4 585.3,1456.8 624.2,1452.7 663.1,1447.5 702.0,1447.5 740.9,1437.1 779.8,1378.8 818.7,1422.5 857.6,1425.6 896.5,1384.5 935.4,1426.7 974.3,1433.9 1013.2,1358.5 1052.1,1438.6 1091.0,1410.5 1129.9,1438.6 1168.8,1435.0 1207.7,1441.8 1246.6,1426.1 1285.5,1427.7 1324.4,1458.9 1363.3,1465.2 1402.2,1465.2 1441.1,1468.3" fill="none" stroke="#d9832f" stroke-width="4.2" stroke-linejoin="round" stroke-linecap="round"/>
<rect x="112.30" y="1456.89" width="12.40" height="12.40" fill="#d9832f"/>
<rect x="151.20" y="1431.91" width="12.40" height="12.40" fill="#d9832f"/>
<rect x="190.10" y="1439.20" width="12.40" height="12.40" fill="#d9832f"/>
<rect x="229.00" y="1438.16" width="12.40" height="12.40" fill="#d9832f"/>
<rect x="267.90" y="1407.45" width="12.40" height="12.40" fill="#d9832f"/>
<rect x="306.80" y="1441.28" width="12.40" height="12.40" fill="#d9832f"/>
<rect x="345.70" y="1456.89" width="12.40" height="12.40" fill="#d9832f"/>
<rect x="384.60" y="1461.06" width="12.40" height="12.40" fill="#d9832f"/>
<rect x="423.50" y="1462.10" width="12.40" height="12.40" fill="#d9832f"/>
<rect x="462.40" y="1462.10" width="12.40" height="12.40" fill="#d9832f"/>
<rect x="501.30" y="1450.65" width="12.40" height="12.40" fill="#d9832f"/>
<rect x="540.20" y="1438.16" width="12.40" height="12.40" fill="#d9832f"/>
<rect x="579.10" y="1450.65" width="12.40" height="12.40" fill="#d9832f"/>
<rect x="618.00" y="1446.48" width="12.40" height="12.40" fill="#d9832f"/>
<rect x="656.90" y="1441.28" width="12.40" height="12.40" fill="#d9832f"/>
<rect x="695.80" y="1441.28" width="12.40" height="12.40" fill="#d9832f"/>
<rect x="734.70" y="1430.87" width="12.40" height="12.40" fill="#d9832f"/>
<rect x="773.60" y="1372.57" width="12.40" height="12.40" fill="#d9832f"/>
<rect x="812.50" y="1416.30" width="12.40" height="12.40" fill="#d9832f"/>
<rect x="851.40" y="1419.42" width="12.40" height="12.40" fill="#d9832f"/>
<rect x="890.30" y="1378.30" width="12.40" height="12.40" fill="#d9832f"/>
<rect x="929.20" y="1420.46" width="12.40" height="12.40" fill="#d9832f"/>
<rect x="968.10" y="1427.75" width="12.40" height="12.40" fill="#d9832f"/>
<rect x="1007.00" y="1352.27" width="12.40" height="12.40" fill="#d9832f"/>
<rect x="1045.90" y="1432.43" width="12.40" height="12.40" fill="#d9832f"/>
<rect x="1084.80" y="1404.32" width="12.40" height="12.40" fill="#d9832f"/>
<rect x="1123.70" y="1432.43" width="12.40" height="12.40" fill="#d9832f"/>
<rect x="1162.60" y="1428.79" width="12.40" height="12.40" fill="#d9832f"/>
<rect x="1201.50" y="1435.55" width="12.40" height="12.40" fill="#d9832f"/>
<rect x="1240.40" y="1419.94" width="12.40" height="12.40" fill="#d9832f"/>
<rect x="1279.30" y="1421.50" width="12.40" height="12.40" fill="#d9832f"/>
<rect x="1318.20" y="1452.73" width="12.40" height="12.40" fill="#d9832f"/>
<rect x="1357.10" y="1458.98" width="12.40" height="12.40" fill="#d9832f"/>
<rect x="1396.00" y="1458.98" width="12.40" height="12.40" fill="#d9832f"/>
<rect x="1434.90" y="1462.10" width="12.40" height="12.40" fill="#d9832f"/>
<polyline points="118.5,1442.3 157.4,1431.9 196.3,1437.1 235.2,1442.3 274.1,1426.7 313.0,1447.5 351.9,1457.9 390.8,1457.9 429.7,1457.9 468.6,1437.1 507.5,1457.9 546.4,1463.1 585.3,1457.9 624.2,1452.7 663.1,1447.5 702.0,1452.7 740.9,1447.5 779.8,1437.1 818.7,1442.3 857.6,1442.3 896.5,1426.7 935.4,1445.4 974.3,1386.6 1013.2,1405.8 1052.1,1400.6 1091.0,1389.2 1129.9,1433.9 1168.8,1426.7 1207.7,1433.9 1246.6,1453.2 1285.5,1439.7 1324.4,1455.3 1363.3,1457.9 1402.2,1457.9 1441.1,1463.1" fill="none" stroke="#a9a9a9" stroke-width="4.2" stroke-linejoin="round" stroke-linecap="round"/>
<path d="M113.0,1436.8 L124.0,1447.8 M124.0,1436.8 L113.0,1447.8" stroke="#a9a9a9" stroke-width="2"/>
<path d="M151.9,1426.4 L162.9,1437.4 M162.9,1426.4 L151.9,1437.4" stroke="#a9a9a9" stroke-width="2"/>
<path d="M190.8,1431.6 L201.8,1442.6 M201.8,1431.6 L190.8,1442.6" stroke="#a9a9a9" stroke-width="2"/>
<path d="M229.7,1436.8 L240.7,1447.8 M240.7,1436.8 L229.7,1447.8" stroke="#a9a9a9" stroke-width="2"/>
<path d="M268.6,1421.2 L279.6,1432.2 M279.6,1421.2 L268.6,1432.2" stroke="#a9a9a9" stroke-width="2"/>
<path d="M307.5,1442.0 L318.5,1453.0 M318.5,1442.0 L307.5,1453.0" stroke="#a9a9a9" stroke-width="2"/>
<path d="M346.4,1452.4 L357.4,1463.4 M357.4,1452.4 L346.4,1463.4" stroke="#a9a9a9" stroke-width="2"/>
<path d="M385.3,1452.4 L396.3,1463.4 M396.3,1452.4 L385.3,1463.4" stroke="#a9a9a9" stroke-width="2"/>
<path d="M424.2,1452.4 L435.2,1463.4 M435.2,1452.4 L424.2,1463.4" stroke="#a9a9a9" stroke-width="2"/>
<path d="M463.1,1431.6 L474.1,1442.6 M474.1,1431.6 L463.1,1442.6" stroke="#a9a9a9" stroke-width="2"/>
<path d="M502.0,1452.4 L513.0,1463.4 M513.0,1452.4 L502.0,1463.4" stroke="#a9a9a9" stroke-width="2"/>
<path d="M540.9,1457.6 L551.9,1468.6 M551.9,1457.6 L540.9,1468.6" stroke="#a9a9a9" stroke-width="2"/>
<path d="M579.8,1452.4 L590.8,1463.4 M590.8,1452.4 L579.8,1463.4" stroke="#a9a9a9" stroke-width="2"/>
<path d="M618.7,1447.2 L629.7,1458.2 M629.7,1447.2 L618.7,1458.2" stroke="#a9a9a9" stroke-width="2"/>
<path d="M657.6,1442.0 L668.6,1453.0 M668.6,1442.0 L657.6,1453.0" stroke="#a9a9a9" stroke-width="2"/>
<path d="M696.5,1447.2 L707.5,1458.2 M707.5,1447.2 L696.5,1458.2" stroke="#a9a9a9" stroke-width="2"/>
<path d="M735.4,1442.0 L746.4,1453.0 M746.4,1442.0 L735.4,1453.0" stroke="#a9a9a9" stroke-width="2"/>
<path d="M774.3,1431.6 L785.3,1442.6 M785.3,1431.6 L774.3,1442.6" stroke="#a9a9a9" stroke-width="2"/>
<path d="M813.2,1436.8 L824.2,1447.8 M824.2,1436.8 L813.2,1447.8" stroke="#a9a9a9" stroke-width="2"/>
<path d="M852.1,1436.8 L863.1,1447.8 M863.1,1436.8 L852.1,1447.8" stroke="#a9a9a9" stroke-width="2"/>
<path d="M891.0,1421.2 L902.0,1432.2 M902.0,1421.2 L891.0,1432.2" stroke="#a9a9a9" stroke-width="2"/>
<path d="M929.9,1439.9 L940.9,1450.9 M940.9,1439.9 L929.9,1450.9" stroke="#a9a9a9" stroke-width="2"/>
<path d="M968.8,1381.1 L979.8,1392.1 M979.8,1381.1 L968.8,1392.1" stroke="#a9a9a9" stroke-width="2"/>
<path d="M1007.7,1400.3 L1018.7,1411.3 M1018.7,1400.3 L1007.7,1411.3" stroke="#a9a9a9" stroke-width="2"/>
<path d="M1046.6,1395.1 L1057.6,1406.1 M1057.6,1395.1 L1046.6,1406.1" stroke="#a9a9a9" stroke-width="2"/>
<path d="M1085.5,1383.7 L1096.5,1394.7 M1096.5,1383.7 L1085.5,1394.7" stroke="#a9a9a9" stroke-width="2"/>
<path d="M1124.4,1428.4 L1135.4,1439.4 M1135.4,1428.4 L1124.4,1439.4" stroke="#a9a9a9" stroke-width="2"/>
<path d="M1163.3,1421.2 L1174.3,1432.2 M1174.3,1421.2 L1163.3,1432.2" stroke="#a9a9a9" stroke-width="2"/>
<path d="M1202.2,1428.4 L1213.2,1439.4 M1213.2,1428.4 L1202.2,1439.4" stroke="#a9a9a9" stroke-width="2"/>
<path d="M1241.1,1447.7 L1252.1,1458.7 M1252.1,1447.7 L1241.1,1458.7" stroke="#a9a9a9" stroke-width="2"/>
<path d="M1280.0,1434.2 L1291.0,1445.2 M1291.0,1434.2 L1280.0,1445.2" stroke="#a9a9a9" stroke-width="2"/>
<path d="M1318.9,1449.8 L1329.9,1460.8 M1329.9,1449.8 L1318.9,1460.8" stroke="#a9a9a9" stroke-width="2"/>
<path d="M1357.8,1452.4 L1368.8,1463.4 M1368.8,1452.4 L1357.8,1463.4" stroke="#a9a9a9" stroke-width="2"/>
<path d="M1396.7,1452.4 L1407.7,1463.4 M1407.7,1452.4 L1396.7,1463.4" stroke="#a9a9a9" stroke-width="2"/>
<path d="M1435.6,1457.6 L1446.6,1468.6 M1446.6,1457.6 L1435.6,1468.6" stroke="#a9a9a9" stroke-width="2"/>
<polyline points="118.5,1418.9 157.4,1351.2 196.3,1320.5 235.2,1415.2 274.1,1310.1 313.0,1455.3 351.9,1468.3 390.8,1422.5 429.7,1450.6 468.6,1456.8 507.5,1468.3 546.4,1463.1 585.3,1450.6 624.2,1423.5 663.1,1454.8 702.0,1428.7 740.9,1450.6 779.8,1425.6 818.7,1425.1 857.6,1361.6 896.5,1378.8 935.4,1394.9 974.3,1347.0 1013.2,1309.0 1052.1,1330.4 1091.0,1366.8 1129.9,1351.7 1168.8,1412.6 1207.7,1396.5 1246.6,1400.6 1285.5,1418.3 1324.4,1437.6 1363.3,1463.1 1402.2,1439.7 1441.1,1443.3" fill="none" stroke="#6a0cb4" stroke-width="4.2" stroke-linejoin="round" stroke-linecap="round"/>
<path d="M113.5,1413.9 L123.5,1423.9 M123.5,1413.9 L113.5,1423.9" stroke="#c9a8e8" stroke-width="2"/>
<circle cx="118.5" cy="1418.9" r="4" fill="#000"/>
<path d="M152.4,1346.2 L162.4,1356.2 M162.4,1346.2 L152.4,1356.2" stroke="#c9a8e8" stroke-width="2"/>
<circle cx="157.4" cy="1351.2" r="4" fill="#000"/>
<path d="M191.3,1315.5 L201.3,1325.5 M201.3,1315.5 L191.3,1325.5" stroke="#c9a8e8" stroke-width="2"/>
<circle cx="196.3" cy="1320.5" r="4" fill="#000"/>
<path d="M230.2,1410.2 L240.2,1420.2 M240.2,1410.2 L230.2,1420.2" stroke="#c9a8e8" stroke-width="2"/>
<circle cx="235.2" cy="1415.2" r="4" fill="#000"/>
<path d="M269.1,1305.1 L279.1,1315.1 M279.1,1305.1 L269.1,1315.1" stroke="#c9a8e8" stroke-width="2"/>
<circle cx="274.1" cy="1310.1" r="4" fill="#000"/>
<path d="M308.0,1450.3 L318.0,1460.3 M318.0,1450.3 L308.0,1460.3" stroke="#c9a8e8" stroke-width="2"/>
<circle cx="313.0" cy="1455.3" r="4" fill="#000"/>
<path d="M346.9,1463.3 L356.9,1473.3 M356.9,1463.3 L346.9,1473.3" stroke="#c9a8e8" stroke-width="2"/>
<circle cx="351.9" cy="1468.3" r="4" fill="#000"/>
<path d="M385.8,1417.5 L395.8,1427.5 M395.8,1417.5 L385.8,1427.5" stroke="#c9a8e8" stroke-width="2"/>
<circle cx="390.8" cy="1422.5" r="4" fill="#000"/>
<path d="M424.7,1445.6 L434.7,1455.6 M434.7,1445.6 L424.7,1455.6" stroke="#c9a8e8" stroke-width="2"/>
<circle cx="429.7" cy="1450.6" r="4" fill="#000"/>
<path d="M463.6,1451.8 L473.6,1461.8 M473.6,1451.8 L463.6,1461.8" stroke="#c9a8e8" stroke-width="2"/>
<circle cx="468.6" cy="1456.8" r="4" fill="#000"/>
<path d="M502.5,1463.3 L512.5,1473.3 M512.5,1463.3 L502.5,1473.3" stroke="#c9a8e8" stroke-width="2"/>
<circle cx="507.5" cy="1468.3" r="4" fill="#000"/>
<path d="M541.4,1458.1 L551.4,1468.1 M551.4,1458.1 L541.4,1468.1" stroke="#c9a8e8" stroke-width="2"/>
<circle cx="546.4" cy="1463.1" r="4" fill="#000"/>
<path d="M580.3,1445.6 L590.3,1455.6 M590.3,1445.6 L580.3,1455.6" stroke="#c9a8e8" stroke-width="2"/>
<circle cx="585.3" cy="1450.6" r="4" fill="#000"/>
<path d="M619.2,1418.5 L629.2,1428.5 M629.2,1418.5 L619.2,1428.5" stroke="#c9a8e8" stroke-width="2"/>
<circle cx="624.2" cy="1423.5" r="4" fill="#000"/>
<path d="M658.1,1449.8 L668.1,1459.8 M668.1,1449.8 L658.1,1459.8" stroke="#c9a8e8" stroke-width="2"/>
<circle cx="663.1" cy="1454.8" r="4" fill="#000"/>
<path d="M697.0,1423.7 L707.0,1433.7 M707.0,1423.7 L697.0,1433.7" stroke="#c9a8e8" stroke-width="2"/>
<circle cx="702.0" cy="1428.7" r="4" fill="#000"/>
<path d="M735.9,1445.6 L745.9,1455.6 M745.9,1445.6 L735.9,1455.6" stroke="#c9a8e8" stroke-width="2"/>
<circle cx="740.9" cy="1450.6" r="4" fill="#000"/>
<path d="M774.8,1420.6 L784.8,1430.6 M784.8,1420.6 L774.8,1430.6" stroke="#c9a8e8" stroke-width="2"/>
<circle cx="779.8" cy="1425.6" r="4" fill="#000"/>
<path d="M813.7,1420.1 L823.7,1430.1 M823.7,1420.1 L813.7,1430.1" stroke="#c9a8e8" stroke-width="2"/>
<circle cx="818.7" cy="1425.1" r="4" fill="#000"/>
<path d="M852.6,1356.6 L862.6,1366.6 M862.6,1356.6 L852.6,1366.6" stroke="#c9a8e8" stroke-width="2"/>
<circle cx="857.6" cy="1361.6" r="4" fill="#000"/>
<path d="M891.5,1373.8 L901.5,1383.8 M901.5,1373.8 L891.5,1383.8" stroke="#c9a8e8" stroke-width="2"/>
<circle cx="896.5" cy="1378.8" r="4" fill="#000"/>
<path d="M930.4,1389.9 L940.4,1399.9 M940.4,1389.9 L930.4,1399.9" stroke="#c9a8e8" stroke-width="2"/>
<circle cx="935.4" cy="1394.9" r="4" fill="#000"/>
<path d="M969.3,1342.0 L979.3,1352.0 M979.3,1342.0 L969.3,1352.0" stroke="#c9a8e8" stroke-width="2"/>
<circle cx="974.3" cy="1347.0" r="4" fill="#000"/>
<path d="M1008.2,1304.0 L1018.2,1314.0 M1018.2,1304.0 L1008.2,1314.0" stroke="#c9a8e8" stroke-width="2"/>
<circle cx="1013.2" cy="1309.0" r="4" fill="#000"/>
<path d="M1047.1,1325.4 L1057.1,1335.4 M1057.1,1325.4 L1047.1,1335.4" stroke="#c9a8e8" stroke-width="2"/>
<circle cx="1052.1" cy="1330.4" r="4" fill="#000"/>
<path d="M1086.0,1361.8 L1096.0,1371.8 M1096.0,1361.8 L1086.0,1371.8" stroke="#c9a8e8" stroke-width="2"/>
<circle cx="1091.0" cy="1366.8" r="4" fill="#000"/>
<path d="M1124.9,1346.7 L1134.9,1356.7 M1134.9,1346.7 L1124.9,1356.7" stroke="#c9a8e8" stroke-width="2"/>
<circle cx="1129.9" cy="1351.7" r="4" fill="#000"/>
<path d="M1163.8,1407.6 L1173.8,1417.6 M1173.8,1407.6 L1163.8,1417.6" stroke="#c9a8e8" stroke-width="2"/>
<circle cx="1168.8" cy="1412.6" r="4" fill="#000"/>
<path d="M1202.7,1391.5 L1212.7,1401.5 M1212.7,1391.5 L1202.7,1401.5" stroke="#c9a8e8" stroke-width="2"/>
<circle cx="1207.7" cy="1396.5" r="4" fill="#000"/>
<path d="M1241.6,1395.6 L1251.6,1405.6 M1251.6,1395.6 L1241.6,1405.6" stroke="#c9a8e8" stroke-width="2"/>
<circle cx="1246.6" cy="1400.6" r="4" fill="#000"/>
<path d="M1280.5,1413.3 L1290.5,1423.3 M1290.5,1413.3 L1280.5,1423.3" stroke="#c9a8e8" stroke-width="2"/>
<circle cx="1285.5" cy="1418.3" r="4" fill="#000"/>
<path d="M1319.4,1432.6 L1329.4,1442.6 M1329.4,1432.6 L1319.4,1442.6" stroke="#c9a8e8" stroke-width="2"/>
<circle cx="1324.4" cy="1437.6" r="4" fill="#000"/>
<path d="M1358.3,1458.1 L1368.3,1468.1 M1368.3,1458.1 L1358.3,1468.1" stroke="#c9a8e8" stroke-width="2"/>
<circle cx="1363.3" cy="1463.1" r="4" fill="#000"/>
<path d="M1397.2,1434.7 L1407.2,1444.7 M1407.2,1434.7 L1397.2,1444.7" stroke="#c9a8e8" stroke-width="2"/>
<circle cx="1402.2" cy="1439.7" r="4" fill="#000"/>
<path d="M1436.1,1438.3 L1446.1,1448.3 M1446.1,1438.3 L1436.1,1448.3" stroke="#c9a8e8" stroke-width="2"/>
<circle cx="1441.1" cy="1443.3" r="4" fill="#000"/>
<polyline points="118.5,1442.8 157.4,1422.0 196.3,1424.6 235.2,1450.1 274.1,1389.7 313.0,1442.3 351.9,1427.7 390.8,1436.0 429.7,1461.0 468.6,1468.3 507.5,1463.1 546.4,1468.3 585.3,1454.8 624.2,1436.0 663.1,1444.4 702.0,1465.2 740.9,1438.1 779.8,1415.2 818.7,1409.0 857.6,1375.1 896.5,1358.5 935.4,1407.9 974.3,1399.6 1013.2,1323.6 1052.1,1372.5 1091.0,1424.6 1129.9,1399.6 1168.8,1424.6 1207.7,1402.2 1246.6,1422.0 1285.5,1433.9 1324.4,1451.1 1363.3,1433.9 1402.2,1447.5 1441.1,1467.3" fill="none" stroke="#72b84a" stroke-width="4.2" stroke-linejoin="round" stroke-linecap="round"/>
<circle cx="118.5" cy="1442.8" r="8" fill="#72b84a"/>
<circle cx="157.4" cy="1422.0" r="8" fill="#72b84a"/>
<circle cx="196.3" cy="1424.6" r="8" fill="#72b84a"/>
<circle cx="235.2" cy="1450.1" r="8" fill="#72b84a"/>
<circle cx="274.1" cy="1389.7" r="8" fill="#72b84a"/>
<circle cx="313.0" cy="1442.3" r="8" fill="#72b84a"/>
<circle cx="351.9" cy="1427.7" r="8" fill="#72b84a"/>
<circle cx="390.8" cy="1436.0" r="8" fill="#72b84a"/>
<circle cx="429.7" cy="1461.0" r="8" fill="#72b84a"/>
<circle cx="468.6" cy="1468.3" r="8" fill="#72b84a"/>
<circle cx="507.5" cy="1463.1" r="8" fill="#72b84a"/>
<circle cx="546.4" cy="1468.3" r="8" fill="#72b84a"/>
<circle cx="585.3" cy="1454.8" r="8" fill="#72b84a"/>
<circle cx="624.2" cy="1436.0" r="8" fill="#72b84a"/>
<circle cx="663.1" cy="1444.4" r="8" fill="#72b84a"/>
<circle cx="702.0" cy="1465.2" r="8" fill="#72b84a"/>
<circle cx="740.9" cy="1438.1" r="8" fill="#72b84a"/>
<circle cx="779.8" cy="1415.2" r="8" fill="#72b84a"/>
<circle cx="818.7" cy="1409.0" r="8" fill="#72b84a"/>
<circle cx="857.6" cy="1375.1" r="8" fill="#72b84a"/>
<circle cx="896.5" cy="1358.5" r="8" fill="#72b84a"/>
<circle cx="935.4" cy="1407.9" r="8" fill="#72b84a"/>
<circle cx="974.3" cy="1399.6" r="8" fill="#72b84a"/>
<circle cx="1013.2" cy="1323.6" r="8" fill="#72b84a"/>
<circle cx="1052.1" cy="1372.5" r="8" fill="#72b84a"/>
<circle cx="1091.0" cy="1424.6" r="8" fill="#72b84a"/>
<circle cx="1129.9" cy="1399.6" r="8" fill="#72b84a"/>
<circle cx="1168.8" cy="1424.6" r="8" fill="#72b84a"/>
<circle cx="1207.7" cy="1402.2" r="8" fill="#72b84a"/>
<circle cx="1246.6" cy="1422.0" r="8" fill="#72b84a"/>
<circle cx="1285.5" cy="1433.9" r="8" fill="#72b84a"/>
<circle cx="1324.4" cy="1451.1" r="8" fill="#72b84a"/>
<circle cx="1363.3" cy="1433.9" r="8" fill="#72b84a"/>
<circle cx="1402.2" cy="1447.5" r="8" fill="#72b84a"/>
<circle cx="1441.1" cy="1467.3" r="8" fill="#72b84a"/>
<polyline points="118.5,1448.0 157.4,1390.7 196.3,1381.4 235.2,1417.3 274.1,1407.9 313.0,1409.5 351.9,1436.0 390.8,1450.6 429.7,1454.8 468.6,1442.3 507.5,1450.6 546.4,1468.3 585.3,1465.2 624.2,1456.8 663.1,1442.3 702.0,1452.7 740.9,1415.2 779.8,1444.4 818.7,1427.7 857.6,1348.1 896.5,1340.8 935.4,1400.6 974.3,1309.0 1013.2,1323.6 1052.1,1391.3 1091.0,1303.3 1129.9,1333.0 1168.8,1396.0 1207.7,1416.2 1246.6,1412.1 1285.5,1404.3 1324.4,1443.3 1363.3,1445.4 1402.2,1455.3 1441.1,1447.5" fill="none" stroke="#ecd000" stroke-width="4.2" stroke-linejoin="round" stroke-linecap="round"/>
<circle cx="118.5" cy="1448.0" r="7" fill="#ecd000"/>
<circle cx="157.4" cy="1390.7" r="7" fill="#ecd000"/>
<circle cx="196.3" cy="1381.4" r="7" fill="#ecd000"/>
<circle cx="235.2" cy="1417.3" r="7" fill="#ecd000"/>
<circle cx="274.1" cy="1407.9" r="7" fill="#ecd000"/>
<circle cx="313.0" cy="1409.5" r="7" fill="#ecd000"/>
<circle cx="351.9" cy="1436.0" r="7" fill="#ecd000"/>
<circle cx="390.8" cy="1450.6" r="7" fill="#ecd000"/>
<circle cx="429.7" cy="1454.8" r="7" fill="#ecd000"/>
<circle cx="468.6" cy="1442.3" r="7" fill="#ecd000"/>
<circle cx="507.5" cy="1450.6" r="7" fill="#ecd000"/>
<circle cx="546.4" cy="1468.3" r="7" fill="#ecd000"/>
<circle cx="585.3" cy="1465.2" r="7" fill="#ecd000"/>
<circle cx="624.2" cy="1456.8" r="7" fill="#ecd000"/>
<circle cx="663.1" cy="1442.3" r="7" fill="#ecd000"/>
<circle cx="702.0" cy="1452.7" r="7" fill="#ecd000"/>
<circle cx="740.9" cy="1415.2" r="7" fill="#ecd000"/>
<circle cx="779.8" cy="1444.4" r="7" fill="#ecd000"/>
<circle cx="818.7" cy="1427.7" r="7" fill="#ecd000"/>
<circle cx="857.6" cy="1348.1" r="7" fill="#ecd000"/>
<circle cx="896.5" cy="1340.8" r="7" fill="#ecd000"/>
<circle cx="935.4" cy="1400.6" r="7" fill="#ecd000"/>
<circle cx="974.3" cy="1309.0" r="7" fill="#ecd000"/>
<circle cx="1013.2" cy="1323.6" r="7" fill="#ecd000"/>
<circle cx="1052.1" cy="1391.3" r="7" fill="#ecd000"/>
<circle cx="1091.0" cy="1303.3" r="7" fill="#ecd000"/>
<circle cx="1129.9" cy="1333.0" r="7" fill="#ecd000"/>
<circle cx="1168.8" cy="1396.0" r="7" fill="#ecd000"/>
<circle cx="1207.7" cy="1416.2" r="7" fill="#ecd000"/>
<circle cx="1246.6" cy="1412.1" r="7" fill="#ecd000"/>
<circle cx="1285.5" cy="1404.3" r="7" fill="#ecd000"/>
<circle cx="1324.4" cy="1443.3" r="7" fill="#ecd000"/>
<circle cx="1363.3" cy="1445.4" r="7" fill="#ecd000"/>
<circle cx="1402.2" cy="1455.3" r="7" fill="#ecd000"/>
<circle cx="1441.1" cy="1447.5" r="7" fill="#ecd000"/>
<polyline points="118.5,1428.2 157.4,1370.4 196.3,1427.2 235.2,1427.2 274.1,1417.3 313.0,1421.5 351.9,1453.7 390.8,1453.7 429.7,1448.5 468.6,1456.8 507.5,1468.3 546.4,1463.1 585.3,1446.4 624.2,1443.3 663.1,1426.7 702.0,1444.4 740.9,1432.9 779.8,1400.6 818.7,1448.5 857.6,1412.6 896.5,1328.3 935.4,1339.7 974.3,1296.5 1013.2,1297.6 1052.1,1318.9 1091.0,1280.9 1129.9,1352.7 1168.8,1385.5 1207.7,1410.0 1246.6,1390.7 1285.5,1353.8 1324.4,1461.0 1363.3,1451.1 1402.2,1457.4 1441.1,1459.5" fill="none" stroke="#262a78" stroke-width="4.2" stroke-linejoin="round" stroke-linecap="round"/>
<circle cx="118.5" cy="1428.2" r="7" fill="#262a78"/>
<circle cx="157.4" cy="1370.4" r="7" fill="#262a78"/>
<circle cx="196.3" cy="1427.2" r="7" fill="#262a78"/>
<circle cx="235.2" cy="1427.2" r="7" fill="#262a78"/>
<circle cx="274.1" cy="1417.3" r="7" fill="#262a78"/>
<circle cx="313.0" cy="1421.5" r="7" fill="#262a78"/>
<circle cx="351.9" cy="1453.7" r="7" fill="#262a78"/>
<circle cx="390.8" cy="1453.7" r="7" fill="#262a78"/>
<circle cx="429.7" cy="1448.5" r="7" fill="#262a78"/>
<circle cx="468.6" cy="1456.8" r="7" fill="#262a78"/>
<circle cx="507.5" cy="1468.3" r="7" fill="#262a78"/>
<circle cx="546.4" cy="1463.1" r="7" fill="#262a78"/>
<circle cx="585.3" cy="1446.4" r="7" fill="#262a78"/>
<circle cx="624.2" cy="1443.3" r="7" fill="#262a78"/>
<circle cx="663.1" cy="1426.7" r="7" fill="#262a78"/>
<circle cx="702.0" cy="1444.4" r="7" fill="#262a78"/>
<circle cx="740.9" cy="1432.9" r="7" fill="#262a78"/>
<circle cx="779.8" cy="1400.6" r="7" fill="#262a78"/>
<circle cx="818.7" cy="1448.5" r="7" fill="#262a78"/>
<circle cx="857.6" cy="1412.6" r="7" fill="#262a78"/>
<circle cx="896.5" cy="1328.3" r="7" fill="#262a78"/>
<circle cx="935.4" cy="1339.7" r="7" fill="#262a78"/>
<circle cx="974.3" cy="1296.5" r="7" fill="#262a78"/>
<circle cx="1013.2" cy="1297.6" r="7" fill="#262a78"/>
<circle cx="1052.1" cy="1318.9" r="7" fill="#262a78"/>
<circle cx="1091.0" cy="1280.9" r="7" fill="#262a78"/>
<circle cx="1129.9" cy="1352.7" r="7" fill="#262a78"/>
<circle cx="1168.8" cy="1385.5" r="7" fill="#262a78"/>
<circle cx="1207.7" cy="1410.0" r="7" fill="#262a78"/>
<circle cx="1246.6" cy="1390.7" r="7" fill="#262a78"/>
<circle cx="1285.5" cy="1353.8" r="7" fill="#262a78"/>
<circle cx="1324.4" cy="1461.0" r="7" fill="#262a78"/>
<circle cx="1363.3" cy="1451.1" r="7" fill="#262a78"/>
<circle cx="1402.2" cy="1457.4" r="7" fill="#262a78"/>
<circle cx="1441.1" cy="1459.5" r="7" fill="#262a78"/>
<line x1="184.20" y1="1207.50" x2="241.80" y2="1207.50" stroke="#6673d0" stroke-width="4"/>
<path d="M213.0,1200.3 L220.2,1207.5 L213.0,1214.7 L205.8,1207.5 Z" fill="#6673d0"/>
<text x="247.9" y="1217.0" font-size="26" fill="#6e6e6e" text-anchor="start" textLength="39.4" lengthAdjust="spacingAndGlyphs">0-4</text>
<line x1="336.80" y1="1207.50" x2="394.50" y2="1207.50" stroke="#d9832f" stroke-width="4"/>
<rect x="359.45" y="1201.30" width="12.40" height="12.40" fill="#d9832f"/>
<text x="399.5" y="1217.0" font-size="26" fill="#6e6e6e" text-anchor="start" textLength="54.5" lengthAdjust="spacingAndGlyphs">5-17</text>
<line x1="504.90" y1="1207.50" x2="561.90" y2="1207.50" stroke="#a9a9a9" stroke-width="4"/>
<path d="M527.9,1202.0 L538.9,1213.0 M538.9,1202.0 L527.9,1213.0" stroke="#a9a9a9" stroke-width="2"/>
<text x="569.3" y="1217.0" font-size="26" fill="#6e6e6e" text-anchor="start" textLength="69.4" lengthAdjust="spacingAndGlyphs">18-24</text>
<line x1="688.30" y1="1207.50" x2="746.60" y2="1207.50" stroke="#6a0cb4" stroke-width="4"/>
<path d="M712.5,1202.5 L722.5,1212.5 M722.5,1202.5 L712.5,1212.5" stroke="#c9a8e8" stroke-width="2"/>
<circle cx="717.5" cy="1207.5" r="4" fill="#000"/>
<text x="752.8" y="1217.0" font-size="26" fill="#6e6e6e" text-anchor="start" textLength="69.4" lengthAdjust="spacingAndGlyphs">25-39</text>
<line x1="871.40" y1="1207.50" x2="930.10" y2="1207.50" stroke="#72b84a" stroke-width="4"/>
<circle cx="900.8" cy="1207.5" r="8" fill="#72b84a"/>
<text x="935.0" y="1217.0" font-size="26" fill="#6e6e6e" text-anchor="start" textLength="70.0" lengthAdjust="spacingAndGlyphs">40-49</text>
<line x1="1055.70" y1="1207.50" x2="1114.40" y2="1207.50" stroke="#ecd000" stroke-width="4"/>
<circle cx="1085.1" cy="1207.5" r="7" fill="#ecd000"/>
<text x="1119.3" y="1217.0" font-size="26" fill="#6e6e6e" text-anchor="start" textLength="68.5" lengthAdjust="spacingAndGlyphs">50-64</text>
<line x1="1240.00" y1="1207.50" x2="1297.00" y2="1207.50" stroke="#262a78" stroke-width="4"/>
<circle cx="1268.5" cy="1207.5" r="7" fill="#262a78"/>
<text x="1302.0" y="1217.0" font-size="26" fill="#6e6e6e" text-anchor="start" textLength="45.6" lengthAdjust="spacingAndGlyphs">65+</text>
<g font-size="9.5" fill="#7a7a7a" text-anchor="middle">
<text x="118.5" y="1488.5">4-Jul</text>
<text x="157.4" y="1488.5">11-Jul</text>
<text x="196.3" y="1488.5">18-Jul</text>
<text x="235.2" y="1488.5">25-Jul</text>
<text x="274.1" y="1488.5">1-Aug</text>
<text x="313.0" y="1488.5">8-Aug</text>
<text x="351.9" y="1488.5">15-Aug</text>
<text x="390.8" y="1488.5">22-Aug</text>
<text x="429.7" y="1488.5">29-Aug</text>
<text x="468.6" y="1488.5">5-Sep</text>
<text x="507.5" y="1488.5">12-Sep</text>
<text x="546.4" y="1488.5">19-Sep</text>
<text x="585.3" y="1488.5">26-Sep</text>
<text x="624.2" y="1488.5">3-Oct</text>
<text x="663.1" y="1488.5">10-Oct</text>
<text x="702.0" y="1488.5">17-Oct</text>
<text x="740.9" y="1488.5">24-Oct</text>
<text x="779.8" y="1488.5">31-Oct</text>
<text x="818.7" y="1488.5">7-Nov</text>
<text x="857.6" y="1488.5">14-Nov</text>
<text x="896.5" y="1488.5">21-Nov</text>
<text x="935.4" y="1488.5">28-Nov</text>
<text x="974.3" y="1488.5">5-Dec</text>
<text x="1013.2" y="1488.5">12-Dec</text>
<text x="1052.1" y="1488.5">19-Dec</text>
<text x="1091.0" y="1488.5">26-Dec</text>
<text x="1129.9" y="1488.5">2-Jan</text>
<text x="1168.8" y="1488.5">9-Jan</text>
<text x="1207.7" y="1488.5">16-Jan</text>
<text x="1246.6" y="1488.5">23-Jan</text>
<text x="1285.5" y="1488.5">30-Jan</text>
<text x="1324.4" y="1488.5">6-Feb</text>
<text x="1363.3" y="1488.5">13-Feb</text>
<text x="1402.2" y="1488.5">20-Feb</text>
<text x="1441.1" y="1488.5">27-Feb</text>
</g>
<text x="504.5" y="1578.0" font-size="27" font-weight="bold" fill="#000" text-anchor="middle" textLength="258.3" lengthAdjust="spacingAndGlyphs">Total Cases, By Race</text>
<text x="503.6" y="1615.7" font-size="27" font-weight="bold" fill="#000" text-anchor="middle" textLength="500.6" lengthAdjust="spacingAndGlyphs">July 2020-February 2021 (End of Week)</text>
<line x1="130.50" y1="1951.80" x2="957.50" y2="1951.80" stroke="#e4e4e4" stroke-width="1.6"/>
<text x="103.7" y="1962.4" font-size="30" font-family='"Liberation Serif", serif' fill="#606060" text-anchor="end" textLength="17.6" lengthAdjust="spacingAndGlyphs">0</text>
<line x1="130.50" y1="1843.55" x2="957.50" y2="1843.55" stroke="#e4e4e4" stroke-width="1.6"/>
<text x="103.7" y="1854.1" font-size="30" font-family='"Liberation Serif", serif' fill="#606060" text-anchor="end" textLength="31.8" lengthAdjust="spacingAndGlyphs">50</text>
<line x1="130.50" y1="1735.30" x2="957.50" y2="1735.30" stroke="#e4e4e4" stroke-width="1.6"/>
<text x="103.7" y="1745.9" font-size="30" font-family='"Liberation Serif", serif' fill="#606060" text-anchor="end" textLength="45.5" lengthAdjust="spacingAndGlyphs">100</text>
<polyline points="133.0,1913.5 157.9,1881.2 182.9,1852.6 207.8,1925.8 232.7,1856.5 257.6,1920.8 282.6,1933.2 307.5,1935.8 332.4,1942.1 357.4,1943.8 382.3,1945.5 407.2,1945.5 432.2,1943.8 457.1,1931.2 482.0,1936.2 506.9,1938.8 531.9,1923.7 556.8,1886.6 581.7,1899.4 606.7,1853.3 631.6,1831.9 656.5,1907.4 681.5,1844.6 706.4,1777.3 731.3,1844.6 756.2,1860.0 781.2,1882.7 806.1,1871.5 831.0,1884.0 856.0,1862.4 880.9,1903.1 905.8,1931.2 930.8,1936.2 955.7,1931.2" fill="none" stroke="#6470d2" stroke-width="4.2" stroke-linejoin="round" stroke-linecap="round"/>
<path d="M133.0,1906.0 L140.5,1913.5 L133.0,1921.0 L125.5,1913.5 Z" fill="#6470d2"/>
<path d="M157.9,1873.7 L165.4,1881.2 L157.9,1888.7 L150.4,1881.2 Z" fill="#6470d2"/>
<path d="M182.9,1845.1 L190.4,1852.6 L182.9,1860.1 L175.4,1852.6 Z" fill="#6470d2"/>
<path d="M207.8,1918.3 L215.3,1925.8 L207.8,1933.3 L200.3,1925.8 Z" fill="#6470d2"/>
<path d="M232.7,1849.0 L240.2,1856.5 L232.7,1864.0 L225.2,1856.5 Z" fill="#6470d2"/>
<path d="M257.6,1913.3 L265.1,1920.8 L257.6,1928.3 L250.1,1920.8 Z" fill="#6470d2"/>
<path d="M282.6,1925.7 L290.1,1933.2 L282.6,1940.7 L275.1,1933.2 Z" fill="#6470d2"/>
<path d="M307.5,1928.3 L315.0,1935.8 L307.5,1943.3 L300.0,1935.8 Z" fill="#6470d2"/>
<path d="M332.4,1934.6 L339.9,1942.1 L332.4,1949.6 L324.9,1942.1 Z" fill="#6470d2"/>
<path d="M357.4,1936.3 L364.9,1943.8 L357.4,1951.3 L349.9,1943.8 Z" fill="#6470d2"/>
<path d="M382.3,1938.0 L389.8,1945.5 L382.3,1953.0 L374.8,1945.5 Z" fill="#6470d2"/>
<path d="M407.2,1938.0 L414.7,1945.5 L407.2,1953.0 L399.7,1945.5 Z" fill="#6470d2"/>
<path d="M432.2,1936.3 L439.7,1943.8 L432.2,1951.3 L424.7,1943.8 Z" fill="#6470d2"/>
<path d="M457.1,1923.7 L464.6,1931.2 L457.1,1938.7 L449.6,1931.2 Z" fill="#6470d2"/>
<path d="M482.0,1928.7 L489.5,1936.2 L482.0,1943.7 L474.5,1936.2 Z" fill="#6470d2"/>
<path d="M506.9,1931.3 L514.5,1938.8 L506.9,1946.3 L499.4,1938.8 Z" fill="#6470d2"/>
<path d="M531.9,1916.2 L539.4,1923.7 L531.9,1931.2 L524.4,1923.7 Z" fill="#6470d2"/>
<path d="M556.8,1879.1 L564.3,1886.6 L556.8,1894.1 L549.3,1886.6 Z" fill="#6470d2"/>
<path d="M581.7,1891.9 L589.2,1899.4 L581.7,1906.9 L574.2,1899.4 Z" fill="#6470d2"/>
<path d="M606.7,1845.8 L614.2,1853.3 L606.7,1860.8 L599.2,1853.3 Z" fill="#6470d2"/>
<path d="M631.6,1824.4 L639.1,1831.9 L631.6,1839.4 L624.1,1831.9 Z" fill="#6470d2"/>
<path d="M656.5,1899.9 L664.0,1907.4 L656.5,1914.9 L649.0,1907.4 Z" fill="#6470d2"/>
<path d="M681.5,1837.1 L689.0,1844.6 L681.5,1852.1 L674.0,1844.6 Z" fill="#6470d2"/>
<path d="M706.4,1769.8 L713.9,1777.3 L706.4,1784.8 L698.9,1777.3 Z" fill="#6470d2"/>
<path d="M731.3,1837.1 L738.8,1844.6 L731.3,1852.1 L723.8,1844.6 Z" fill="#6470d2"/>
<path d="M756.2,1852.5 L763.8,1860.0 L756.2,1867.5 L748.8,1860.0 Z" fill="#6470d2"/>
<path d="M781.2,1875.2 L788.7,1882.7 L781.2,1890.2 L773.7,1882.7 Z" fill="#6470d2"/>
<path d="M806.1,1864.0 L813.6,1871.5 L806.1,1879.0 L798.6,1871.5 Z" fill="#6470d2"/>
<path d="M831.0,1876.5 L838.5,1884.0 L831.0,1891.5 L823.5,1884.0 Z" fill="#6470d2"/>
<path d="M856.0,1854.9 L863.5,1862.4 L856.0,1869.9 L848.5,1862.4 Z" fill="#6470d2"/>
<path d="M880.9,1895.6 L888.4,1903.1 L880.9,1910.6 L873.4,1903.1 Z" fill="#6470d2"/>
<path d="M905.8,1923.7 L913.3,1931.2 L905.8,1938.7 L898.3,1931.2 Z" fill="#6470d2"/>
<path d="M930.8,1928.7 L938.3,1936.2 L930.8,1943.7 L923.3,1936.2 Z" fill="#6470d2"/>
<path d="M955.7,1923.7 L963.2,1931.2 L955.7,1938.7 L948.2,1931.2 Z" fill="#6470d2"/>
<polyline points="133.0,1918.2 157.9,1867.4 182.9,1903.5 207.8,1914.6 232.7,1852.6 257.6,1905.9 282.6,1930.8 307.5,1924.5 332.4,1939.9 357.4,1930.4 382.3,1938.6 407.2,1938.6 432.2,1931.2 457.1,1908.3 482.0,1915.9 506.9,1915.9 531.9,1912.0 556.8,1898.1 581.7,1896.8 606.7,1858.7 631.6,1823.4 656.5,1837.1 681.5,1815.4 706.4,1785.1 731.3,1834.9 756.2,1808.9 781.2,1850.0 806.1,1889.0 831.0,1902.0 856.0,1921.1 880.9,1879.1 905.8,1926.3 930.8,1931.2 955.7,1938.8" fill="none" stroke="#d98a30" stroke-width="4.2" stroke-linejoin="round" stroke-linecap="round"/>
<rect x="126.20" y="1911.44" width="13.60" height="13.60" fill="#d98a30"/>
<rect x="151.13" y="1860.57" width="13.60" height="13.60" fill="#d98a30"/>
<rect x="176.06" y="1896.72" width="13.60" height="13.60" fill="#d98a30"/>
<rect x="200.99" y="1907.76" width="13.60" height="13.60" fill="#d98a30"/>
<rect x="225.92" y="1845.84" width="13.60" height="13.60" fill="#d98a30"/>
<rect x="250.85" y="1899.10" width="13.60" height="13.60" fill="#d98a30"/>
<rect x="275.78" y="1924.00" width="13.60" height="13.60" fill="#d98a30"/>
<rect x="300.71" y="1917.72" width="13.60" height="13.60" fill="#d98a30"/>
<rect x="325.64" y="1933.09" width="13.60" height="13.60" fill="#d98a30"/>
<rect x="350.57" y="1923.57" width="13.60" height="13.60" fill="#d98a30"/>
<rect x="375.50" y="1931.79" width="13.60" height="13.60" fill="#d98a30"/>
<rect x="400.43" y="1931.79" width="13.60" height="13.60" fill="#d98a30"/>
<rect x="425.36" y="1924.43" width="13.60" height="13.60" fill="#d98a30"/>
<rect x="450.29" y="1901.48" width="13.60" height="13.60" fill="#d98a30"/>
<rect x="475.22" y="1909.06" width="13.60" height="13.60" fill="#d98a30"/>
<rect x="500.15" y="1909.06" width="13.60" height="13.60" fill="#d98a30"/>
<rect x="525.08" y="1905.16" width="13.60" height="13.60" fill="#d98a30"/>
<rect x="550.01" y="1891.31" width="13.60" height="13.60" fill="#d98a30"/>
<rect x="574.94" y="1890.01" width="13.60" height="13.60" fill="#d98a30"/>
<rect x="599.87" y="1851.90" width="13.60" height="13.60" fill="#d98a30"/>
<rect x="624.80" y="1816.62" width="13.60" height="13.60" fill="#d98a30"/>
<rect x="649.73" y="1830.25" width="13.60" height="13.60" fill="#d98a30"/>
<rect x="674.66" y="1808.61" width="13.60" height="13.60" fill="#d98a30"/>
<rect x="699.59" y="1778.30" width="13.60" height="13.60" fill="#d98a30"/>
<rect x="724.52" y="1828.09" width="13.60" height="13.60" fill="#d98a30"/>
<rect x="749.45" y="1802.11" width="13.60" height="13.60" fill="#d98a30"/>
<rect x="774.38" y="1843.25" width="13.60" height="13.60" fill="#d98a30"/>
<rect x="799.31" y="1882.21" width="13.60" height="13.60" fill="#d98a30"/>
<rect x="824.24" y="1895.20" width="13.60" height="13.60" fill="#d98a30"/>
<rect x="849.17" y="1914.26" width="13.60" height="13.60" fill="#d98a30"/>
<rect x="874.10" y="1872.26" width="13.60" height="13.60" fill="#d98a30"/>
<rect x="899.03" y="1919.45" width="13.60" height="13.60" fill="#d98a30"/>
<rect x="923.96" y="1924.43" width="13.60" height="13.60" fill="#d98a30"/>
<rect x="948.89" y="1932.01" width="13.60" height="13.60" fill="#d98a30"/>
<polyline points="133.0,1949.6 157.9,1946.8 182.9,1945.5 207.8,1950.7 232.7,1949.6 257.6,1949.6 282.6,1949.6 307.5,1949.6 332.4,1949.6 357.4,1949.6 382.3,1950.7 407.2,1950.7 432.2,1950.3 457.1,1950.3 482.0,1950.3 506.9,1950.3 531.9,1950.3 556.8,1950.7 581.7,1950.7 606.7,1950.7 631.6,1950.7 656.5,1950.7 681.5,1947.5 706.4,1946.4 731.3,1943.8 756.2,1933.6 781.2,1937.5 806.1,1949.0 831.0,1949.0 856.0,1949.0 880.9,1936.2 905.8,1950.7 930.8,1950.7 955.7,1950.7" fill="none" stroke="#a00a0a" stroke-width="4.2" stroke-linejoin="round" stroke-linecap="round"/>
<path d="M127.5,1944.1 L138.5,1955.1 M138.5,1944.1 L127.5,1955.1" stroke="#a00a0a" stroke-width="2"/>
<path d="M152.4,1941.3 L163.4,1952.3 M163.4,1941.3 L152.4,1952.3" stroke="#a00a0a" stroke-width="2"/>
<path d="M177.4,1940.0 L188.4,1951.0 M188.4,1940.0 L177.4,1951.0" stroke="#a00a0a" stroke-width="2"/>
<path d="M202.3,1945.2 L213.3,1956.2 M213.3,1945.2 L202.3,1956.2" stroke="#a00a0a" stroke-width="2"/>
<path d="M227.2,1944.1 L238.2,1955.1 M238.2,1944.1 L227.2,1955.1" stroke="#a00a0a" stroke-width="2"/>
<path d="M252.1,1944.1 L263.1,1955.1 M263.1,1944.1 L252.1,1955.1" stroke="#a00a0a" stroke-width="2"/>
<path d="M277.1,1944.1 L288.1,1955.1 M288.1,1944.1 L277.1,1955.1" stroke="#a00a0a" stroke-width="2"/>
<path d="M302.0,1944.1 L313.0,1955.1 M313.0,1944.1 L302.0,1955.1" stroke="#a00a0a" stroke-width="2"/>
<path d="M326.9,1944.1 L337.9,1955.1 M337.9,1944.1 L326.9,1955.1" stroke="#a00a0a" stroke-width="2"/>
<path d="M351.9,1944.1 L362.9,1955.1 M362.9,1944.1 L351.9,1955.1" stroke="#a00a0a" stroke-width="2"/>
<path d="M376.8,1945.2 L387.8,1956.2 M387.8,1945.2 L376.8,1956.2" stroke="#a00a0a" stroke-width="2"/>
<path d="M401.7,1945.2 L412.7,1956.2 M412.7,1945.2 L401.7,1956.2" stroke="#a00a0a" stroke-width="2"/>
<path d="M426.7,1944.8 L437.7,1955.8 M437.7,1944.8 L426.7,1955.8" stroke="#a00a0a" stroke-width="2"/>
<path d="M451.6,1944.8 L462.6,1955.8 M462.6,1944.8 L451.6,1955.8" stroke="#a00a0a" stroke-width="2"/>
<path d="M476.5,1944.8 L487.5,1955.8 M487.5,1944.8 L476.5,1955.8" stroke="#a00a0a" stroke-width="2"/>
<path d="M501.4,1944.8 L512.5,1955.8 M512.5,1944.8 L501.4,1955.8" stroke="#a00a0a" stroke-width="2"/>
<path d="M526.4,1944.8 L537.4,1955.8 M537.4,1944.8 L526.4,1955.8" stroke="#a00a0a" stroke-width="2"/>
<path d="M551.3,1945.2 L562.3,1956.2 M562.3,1945.2 L551.3,1956.2" stroke="#a00a0a" stroke-width="2"/>
<path d="M576.2,1945.2 L587.2,1956.2 M587.2,1945.2 L576.2,1956.2" stroke="#a00a0a" stroke-width="2"/>
<path d="M601.2,1945.2 L612.2,1956.2 M612.2,1945.2 L601.2,1956.2" stroke="#a00a0a" stroke-width="2"/>
<path d="M626.1,1945.2 L637.1,1956.2 M637.1,1945.2 L626.1,1956.2" stroke="#a00a0a" stroke-width="2"/>
<path d="M651.0,1945.2 L662.0,1956.2 M662.0,1945.2 L651.0,1956.2" stroke="#a00a0a" stroke-width="2"/>
<path d="M676.0,1942.0 L687.0,1953.0 M687.0,1942.0 L676.0,1953.0" stroke="#a00a0a" stroke-width="2"/>
<path d="M700.9,1940.9 L711.9,1951.9 M711.9,1940.9 L700.9,1951.9" stroke="#a00a0a" stroke-width="2"/>
<path d="M725.8,1938.3 L736.8,1949.3 M736.8,1938.3 L725.8,1949.3" stroke="#a00a0a" stroke-width="2"/>
<path d="M750.8,1928.1 L761.8,1939.1 M761.8,1928.1 L750.8,1939.1" stroke="#a00a0a" stroke-width="2"/>
<path d="M775.7,1932.0 L786.7,1943.0 M786.7,1932.0 L775.7,1943.0" stroke="#a00a0a" stroke-width="2"/>
<path d="M800.6,1943.5 L811.6,1954.5 M811.6,1943.5 L800.6,1954.5" stroke="#a00a0a" stroke-width="2"/>
<path d="M825.5,1943.5 L836.5,1954.5 M836.5,1943.5 L825.5,1954.5" stroke="#a00a0a" stroke-width="2"/>
<path d="M850.5,1943.5 L861.5,1954.5 M861.5,1943.5 L850.5,1954.5" stroke="#a00a0a" stroke-width="2"/>
<path d="M875.4,1930.7 L886.4,1941.7 M886.4,1930.7 L875.4,1941.7" stroke="#a00a0a" stroke-width="2"/>
<path d="M900.3,1945.2 L911.3,1956.2 M911.3,1945.2 L900.3,1956.2" stroke="#a00a0a" stroke-width="2"/>
<path d="M925.3,1945.2 L936.3,1956.2 M936.3,1945.2 L925.3,1956.2" stroke="#a00a0a" stroke-width="2"/>
<path d="M950.2,1945.2 L961.2,1956.2 M961.2,1945.2 L950.2,1956.2" stroke="#a00a0a" stroke-width="2"/>
<polyline points="133.0,1951.8 157.9,1935.8 182.9,1949.4 207.8,1941.8 232.7,1949.4 257.6,1949.4 282.6,1949.4 307.5,1949.4 332.4,1947.7 357.4,1949.0 382.3,1951.8 407.2,1951.8 432.2,1949.0 457.1,1951.8 482.0,1949.0 506.9,1951.8 531.9,1949.6 556.8,1937.5 581.7,1950.7 606.7,1950.3 631.6,1951.6 656.5,1950.3 681.5,1923.7 706.4,1951.6 731.3,1947.7 756.2,1934.9 781.2,1927.1 806.1,1951.6 831.0,1943.8 856.0,1943.8 880.9,1949.0 905.8,1951.8 930.8,1950.3 955.7,1950.3" fill="none" stroke="#7016b0" stroke-width="4.2" stroke-linejoin="round" stroke-linecap="round"/>
<path d="M133.0,1945.0 L136.8,1951.8 L129.2,1951.8 Z" fill="#000"/>
<circle cx="133.0" cy="1951.8" r="4.8" fill="#000"/>
<path d="M157.9,1929.0 L161.8,1935.8 L154.1,1935.8 Z" fill="#000"/>
<circle cx="157.9" cy="1935.8" r="4.8" fill="#000"/>
<path d="M182.9,1942.6 L186.7,1949.4 L179.0,1949.4 Z" fill="#000"/>
<circle cx="182.9" cy="1949.4" r="4.8" fill="#000"/>
<path d="M207.8,1935.0 L211.6,1941.8 L203.9,1941.8 Z" fill="#000"/>
<circle cx="207.8" cy="1941.8" r="4.8" fill="#000"/>
<path d="M232.7,1942.6 L236.6,1949.4 L228.9,1949.4 Z" fill="#000"/>
<circle cx="232.7" cy="1949.4" r="4.8" fill="#000"/>
<path d="M257.6,1942.6 L261.5,1949.4 L253.8,1949.4 Z" fill="#000"/>
<circle cx="257.6" cy="1949.4" r="4.8" fill="#000"/>
<path d="M282.6,1942.6 L286.4,1949.4 L278.7,1949.4 Z" fill="#000"/>
<circle cx="282.6" cy="1949.4" r="4.8" fill="#000"/>
<path d="M307.5,1942.6 L311.3,1949.4 L303.7,1949.4 Z" fill="#000"/>
<circle cx="307.5" cy="1949.4" r="4.8" fill="#000"/>
<path d="M332.4,1940.9 L336.3,1947.7 L328.6,1947.7 Z" fill="#000"/>
<circle cx="332.4" cy="1947.7" r="4.8" fill="#000"/>
<path d="M357.4,1942.2 L361.2,1949.0 L353.5,1949.0 Z" fill="#000"/>
<circle cx="357.4" cy="1949.0" r="4.8" fill="#000"/>
<path d="M382.3,1945.0 L386.1,1951.8 L378.5,1951.8 Z" fill="#000"/>
<circle cx="382.3" cy="1951.8" r="4.8" fill="#000"/>
<path d="M407.2,1945.0 L411.1,1951.8 L403.4,1951.8 Z" fill="#000"/>
<circle cx="407.2" cy="1951.8" r="4.8" fill="#000"/>
<path d="M432.2,1942.2 L436.0,1949.0 L428.3,1949.0 Z" fill="#000"/>
<circle cx="432.2" cy="1949.0" r="4.8" fill="#000"/>
<path d="M457.1,1945.0 L460.9,1951.8 L453.2,1951.8 Z" fill="#000"/>
<circle cx="457.1" cy="1951.8" r="4.8" fill="#000"/>
<path d="M482.0,1942.2 L485.9,1949.0 L478.2,1949.0 Z" fill="#000"/>
<circle cx="482.0" cy="1949.0" r="4.8" fill="#000"/>
<path d="M506.9,1945.0 L510.8,1951.8 L503.1,1951.8 Z" fill="#000"/>
<circle cx="506.9" cy="1951.8" r="4.8" fill="#000"/>
<path d="M531.9,1942.8 L535.7,1949.6 L528.0,1949.6 Z" fill="#000"/>
<circle cx="531.9" cy="1949.6" r="4.8" fill="#000"/>
<path d="M556.8,1930.7 L560.6,1937.5 L553.0,1937.5 Z" fill="#000"/>
<circle cx="556.8" cy="1937.5" r="4.8" fill="#000"/>
<path d="M581.7,1943.9 L585.6,1950.7 L577.9,1950.7 Z" fill="#000"/>
<circle cx="581.7" cy="1950.7" r="4.8" fill="#000"/>
<path d="M606.7,1943.5 L610.5,1950.3 L602.8,1950.3 Z" fill="#000"/>
<circle cx="606.7" cy="1950.3" r="4.8" fill="#000"/>
<path d="M631.6,1944.8 L635.4,1951.6 L627.8,1951.6 Z" fill="#000"/>
<circle cx="631.6" cy="1951.6" r="4.8" fill="#000"/>
<path d="M656.5,1943.5 L660.4,1950.3 L652.7,1950.3 Z" fill="#000"/>
<circle cx="656.5" cy="1950.3" r="4.8" fill="#000"/>
<path d="M681.5,1916.9 L685.3,1923.7 L677.6,1923.7 Z" fill="#000"/>
<circle cx="681.5" cy="1923.7" r="4.8" fill="#000"/>
<path d="M706.4,1944.8 L710.2,1951.6 L702.5,1951.6 Z" fill="#000"/>
<circle cx="706.4" cy="1951.6" r="4.8" fill="#000"/>
<path d="M731.3,1940.9 L735.2,1947.7 L727.5,1947.7 Z" fill="#000"/>
<circle cx="731.3" cy="1947.7" r="4.8" fill="#000"/>
<path d="M756.2,1928.1 L760.1,1934.9 L752.4,1934.9 Z" fill="#000"/>
<circle cx="756.2" cy="1934.9" r="4.8" fill="#000"/>
<path d="M781.2,1920.3 L785.0,1927.1 L777.3,1927.1 Z" fill="#000"/>
<circle cx="781.2" cy="1927.1" r="4.8" fill="#000"/>
<path d="M806.1,1944.8 L810.0,1951.6 L802.3,1951.6 Z" fill="#000"/>
<circle cx="806.1" cy="1951.6" r="4.8" fill="#000"/>
<path d="M831.0,1937.0 L834.9,1943.8 L827.2,1943.8 Z" fill="#000"/>
<circle cx="831.0" cy="1943.8" r="4.8" fill="#000"/>
<path d="M856.0,1937.0 L859.8,1943.8 L852.1,1943.8 Z" fill="#000"/>
<circle cx="856.0" cy="1943.8" r="4.8" fill="#000"/>
<path d="M880.9,1942.2 L884.7,1949.0 L877.1,1949.0 Z" fill="#000"/>
<circle cx="880.9" cy="1949.0" r="4.8" fill="#000"/>
<path d="M905.8,1945.0 L909.7,1951.8 L902.0,1951.8 Z" fill="#000"/>
<circle cx="905.8" cy="1951.8" r="4.8" fill="#000"/>
<path d="M930.8,1943.5 L934.6,1950.3 L926.9,1950.3 Z" fill="#000"/>
<circle cx="930.8" cy="1950.3" r="4.8" fill="#000"/>
<path d="M955.7,1943.5 L959.5,1950.3 L951.8,1950.3 Z" fill="#000"/>
<circle cx="955.7" cy="1950.3" r="4.8" fill="#000"/>
<line x1="186.00" y1="1665.50" x2="243.00" y2="1665.50" stroke="#6470d2" stroke-width="4"/>
<path d="M214.5,1658.0 L222.0,1665.5 L214.5,1673.0 L207.0,1665.5 Z" fill="#6470d2"/>
<text x="247.6" y="1675.0" font-size="27" fill="#6e6e6e" text-anchor="start" textLength="63.9" lengthAdjust="spacingAndGlyphs">Black</text>
<line x1="339.40" y1="1665.50" x2="396.80" y2="1665.50" stroke="#d98a30" stroke-width="4"/>
<rect x="361.30" y="1658.70" width="13.60" height="13.60" fill="#d98a30"/>
<text x="404.0" y="1675.0" font-size="27" fill="#6e6e6e" text-anchor="start" textLength="73.6" lengthAdjust="spacingAndGlyphs">White</text>
<line x1="504.50" y1="1665.50" x2="561.90" y2="1665.50" stroke="#a00a0a" stroke-width="4"/>
<path d="M527.7,1660.0 L538.7,1671.0 M538.7,1660.0 L527.7,1671.0" stroke="#a00a0a" stroke-width="2"/>
<text x="565.5" y="1675.0" font-size="27" fill="#6e6e6e" text-anchor="start" textLength="73.5" lengthAdjust="spacingAndGlyphs">Other</text>
<line x1="666.00" y1="1665.50" x2="723.30" y2="1665.50" stroke="#7016b0" stroke-width="4"/>
<path d="M694.6,1658.7 L698.5,1665.5 L690.8,1665.5 Z" fill="#000"/>
<circle cx="694.6" cy="1665.5" r="4.8" fill="#000"/>
<text x="727.0" y="1675.0" font-size="27" fill="#6e6e6e" text-anchor="start" textLength="118.8" lengthAdjust="spacingAndGlyphs">Unknown</text>
<g font-size="7.5" fill="#8a8a8a" text-anchor="middle">
<text x="133.0" y="1967">4-Jul</text>
<text x="157.9" y="1967">11-Jul</text>
<text x="182.9" y="1967">18-Jul</text>
<text x="207.8" y="1967">25-Jul</text>
<text x="232.7" y="1967">1-Aug</text>
<text x="257.6" y="1967">8-Aug</text>
<text x="282.6" y="1967">15-Aug</text>
<text x="307.5" y="1967">22-Aug</text>
<text x="332.4" y="1967">29-Aug</text>
<text x="357.4" y="1967">5-Sep</text>
<text x="382.3" y="1967">12-Sep</text>
<text x="407.2" y="1967">19-Sep</text>
<text x="432.2" y="1967">26-Sep</text>
<text x="457.1" y="1967">3-Oct</text>
<text x="482.0" y="1967">10-Oct</text>
<text x="506.9" y="1967">17-Oct</text>
<text x="531.9" y="1967">24-Oct</text>
<text x="556.8" y="1967">31-Oct</text>
<text x="581.7" y="1967">7-Nov</text>
<text x="606.7" y="1967">14-Nov</text>
<text x="631.6" y="1967">21-Nov</text>
<text x="656.5" y="1967">28-Nov</text>
<text x="681.5" y="1967">5-Dec</text>
<text x="706.4" y="1967">12-Dec</text>
<text x="731.3" y="1967">19-Dec</text>
<text x="756.2" y="1967">26-Dec</text>
<text x="781.2" y="1967">2-Jan</text>
<text x="806.1" y="1967">9-Jan</text>
<text x="831.0" y="1967">16-Jan</text>
<text x="856.0" y="1967">23-Jan</text>
<text x="880.9" y="1967">30-Jan</text>
<text x="905.8" y="1967">6-Feb</text>
<text x="930.8" y="1967">13-Feb</text>
<text x="955.7" y="1967">20-Feb</text>
</g>
<rect x="1010.60" y="1532.20" width="460.50" height="453.20" fill="none" stroke="#737ad4" stroke-width="2.8"/>
<line x1="1010.60" y1="1598.30" x2="1471.10" y2="1598.30" stroke="#737ad4" stroke-width="2.8"/>
<line x1="1010.60" y1="1686.20" x2="1471.10" y2="1686.20" stroke="#737ad4" stroke-width="2.8"/>
<line x1="1010.60" y1="1743.70" x2="1471.10" y2="1743.70" stroke="#737ad4" stroke-width="2.8"/>
<line x1="1010.60" y1="1801.20" x2="1471.10" y2="1801.20" stroke="#737ad4" stroke-width="2.8"/>
<line x1="1335.00" y1="1598.30" x2="1335.00" y2="1743.70" stroke="#737ad4" stroke-width="2.6"/>
<text x="1239.8" y="1578.5" font-size="35" font-weight="bold" fill="#0a0a0a" text-anchor="middle" textLength="367.5" lengthAdjust="spacingAndGlyphs">2/21/2021 – 2/27/2021</text>
<text x="1030.4" y="1632.0" font-size="22" fill="#4e4e4e" text-anchor="start" textLength="225.0" lengthAdjust="spacingAndGlyphs"># Cases via Suspected</text>
<text x="1030.4" y="1662.0" font-size="22" fill="#4e4e4e" text-anchor="start" textLength="266.0" lengthAdjust="spacingAndGlyphs">Community Transmission</text>
<text x="1402.5" y="1662.0" font-size="22" fill="#4e4e4e" text-anchor="middle" textLength="22.4" lengthAdjust="spacingAndGlyphs">13</text>
<text x="1030.4" y="1719.5" font-size="22" fill="#4e4e4e" text-anchor="start" textLength="227.0" lengthAdjust="spacingAndGlyphs"># Cases via Outbreaks</text>
<text x="1401.0" y="1719.5" font-size="22" fill="#4e4e4e" text-anchor="middle" textLength="12.8" lengthAdjust="spacingAndGlyphs">0</text>
<text x="1248.4" y="1778.5" font-size="22" fill="#4e4e4e" text-anchor="middle" textLength="228.7" lengthAdjust="spacingAndGlyphs">Outbreak Explanation</text>
<line x1="1134.00" y1="1782.00" x2="1362.70" y2="1782.00" stroke="#4e4e4e" stroke-width="1.3"/>
<text x="1030.4" y="1833.0" font-size="22" fill="#4e4e4e" text-anchor="start" textLength="382.0" lengthAdjust="spacingAndGlyphs">During the week of 2/21-2/27, there</text>
<text x="1030.4" y="1863.3" font-size="22" fill="#4e4e4e" text-anchor="start" textLength="415.0" lengthAdjust="spacingAndGlyphs">were no cases/patients associated with</text>
<text x="1030.4" y="1893.6" font-size="22" fill="#4e4e4e" text-anchor="start" textLength="133.0" lengthAdjust="spacingAndGlyphs">an outbreak.</text></svg>
</body></html>
